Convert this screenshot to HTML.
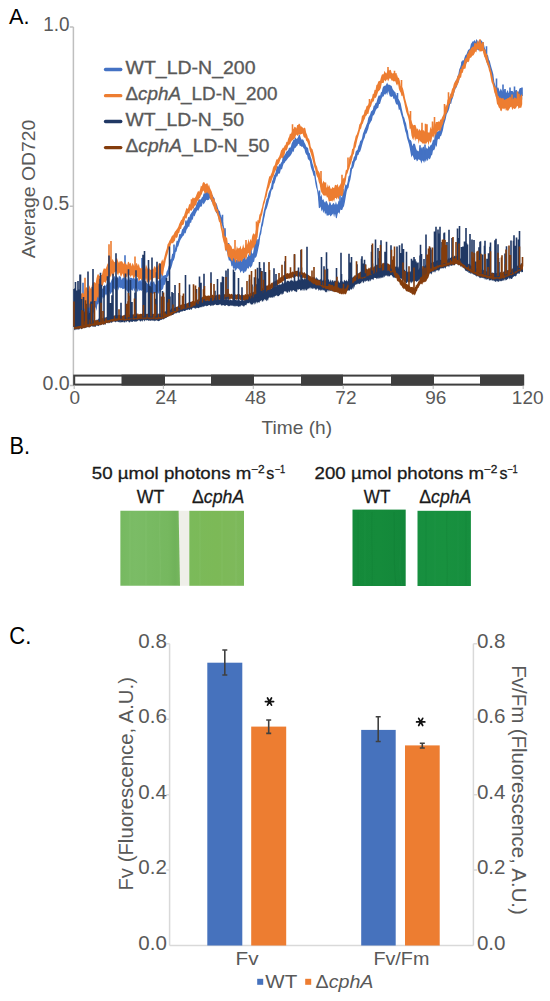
<!DOCTYPE html>
<html><head><meta charset="utf-8">
<style>
html,body{margin:0;padding:0;background:#fff;}
body{width:550px;height:1001px;position:relative;overflow:hidden;}
svg{position:absolute;left:0;top:0;}
</style></head><body>
<svg width="550" height="1001" viewBox="0 0 550 1001">

<g font-family='"Liberation Sans", sans-serif'>
<text x="69.5" y="31" font-size="19.3" text-anchor="end" fill="#595959" textLength="26.3" lengthAdjust="spacingAndGlyphs" >1.0</text>
<text x="69.3" y="210" font-size="19.3" text-anchor="end" fill="#595959" textLength="26.7" lengthAdjust="spacingAndGlyphs" >0.5</text>
<text x="69.8" y="389.9" font-size="19.3" text-anchor="end" fill="#595959" textLength="27.3" lengthAdjust="spacingAndGlyphs" >0.0</text>
<text x="74.9" y="404" font-size="19" text-anchor="middle" fill="#595959" >0</text>
<text x="166" y="403.9" font-size="19.3" text-anchor="middle" fill="#595959" textLength="21.6" lengthAdjust="spacingAndGlyphs" >24</text>
<text x="255.6" y="404" font-size="19" text-anchor="middle" fill="#595959" >48</text>
<text x="345.9" y="404" font-size="19" text-anchor="middle" fill="#595959" >72</text>
<text x="435.8" y="404" font-size="19" text-anchor="middle" fill="#595959" >96</text>
<text x="527.7" y="404" font-size="19" text-anchor="middle" fill="#595959" >120</text>
<text x="296.8" y="434.4" font-size="19" text-anchor="middle" fill="#595959" textLength="70.5" lengthAdjust="spacingAndGlyphs" >Time (h)</text>
<text transform="translate(34.8,188.9) rotate(-90)" font-size="19" text-anchor="middle" fill="#595959" textLength="138.5" lengthAdjust="spacingAndGlyphs">Average OD720</text>
</g>
<g stroke="#bfbfbf" stroke-width="1.5" fill="none">
<path d="M73.4 27 V386"/>
<path d="M69.8 27 H73.4 M69.8 206.2 H73.4 M69.8 385.5 H73.4"/>
</g>
<g stroke-width="1.6" stroke-linejoin="miter">
<path d="M74.0 305.3L74.9 305.4L75.8 305.5L76.7 306.4L77.6 302.9L78.5 307.1L79.4 302.0L80.3 302.5L81.2 305.9L82.1 301.2L83.0 303.9L83.9 303.6L84.8 304.3L85.7 300.9L86.6 302.5L87.5 300.0L88.4 299.9L89.3 300.6L90.2 302.3L91.1 299.2L92.0 302.6L92.9 296.8L93.8 298.2L94.7 295.3L95.6 295.0L96.5 293.4L97.4 291.6L98.3 290.8L99.2 287.4L100.1 292.2L101.0 289.2L101.9 287.4L102.8 289.2L103.7 286.9L104.6 284.5L105.5 286.0L106.4 284.7L107.3 282.4L108.2 281.5L109.1 280.9L110.0 283.3L110.9 281.7L111.8 279.3L112.7 279.0L113.6 277.2L114.5 275.8L115.4 278.5L116.3 275.5L117.2 276.5L118.1 278.8L119.0 275.4L119.9 276.6L120.8 276.8L121.7 280.1L122.6 277.9L123.5 277.4L124.4 277.9L125.3 277.2L126.2 278.1L127.1 280.7L128.0 278.0L128.9 280.2L129.8 277.0L130.7 277.9L131.6 277.7L132.5 278.8L133.4 276.9L134.3 278.1L135.2 279.7L136.1 278.9L137.0 277.8L137.9 278.5L138.8 281.7L139.7 280.0L140.6 280.5L141.5 282.5L142.4 278.4L143.3 280.3L144.2 278.8L145.1 282.7L146.0 282.5L146.9 283.0L147.8 284.2L148.7 282.9L149.6 285.1L150.5 281.2L151.4 281.3L152.3 283.0L153.2 281.7L154.1 281.3L155.0 284.3L155.9 284.5L156.8 282.6L157.7 279.4L158.6 281.0L159.5 279.9L160.4 279.9L161.3 278.2L162.2 278.0L163.1 275.6L164.0 275.7L164.9 275.0L165.8 275.1L166.7 271.3L167.6 270.0L168.5 266.6L169.4 264.6L170.3 259.3L171.2 259.1L172.1 254.1L173.0 253.5L173.9 250.8L174.8 249.2L175.7 245.6L176.6 240.8L177.5 241.0L178.4 238.5L179.3 233.9L180.2 234.2L181.1 233.4L182.0 229.4L182.9 228.7L183.8 226.8L184.7 225.7L185.6 222.0L186.5 221.9L187.4 220.0L188.3 216.8L189.2 217.5L190.1 214.8L191.0 213.5L191.9 211.9L192.8 211.0L193.7 208.7L194.6 207.9L195.5 207.3L196.4 204.0L197.3 202.4L198.2 200.2L199.1 199.2L200.0 199.5L200.9 199.5L201.8 197.5L202.7 196.8L203.6 193.4L204.5 193.4L205.4 191.1L206.3 191.0L207.2 190.4L208.1 188.7L209.0 189.0L209.9 193.1L210.8 194.0L211.7 194.5L212.6 195.0L213.5 197.0L214.4 198.0L215.3 202.4L216.2 202.9L217.1 205.1L218.0 208.2L218.9 210.6L219.8 211.1L220.7 214.8L221.6 216.9L222.5 218.5L223.4 223.7L224.3 228.2L225.2 230.4L226.1 238.7L227.0 242.8L227.9 246.0L228.8 247.5L229.7 247.4L230.6 250.1L231.5 253.5L232.4 253.3L233.3 257.2L234.2 257.8L235.1 259.2L236.0 259.5L236.9 260.0L237.8 256.1L238.7 257.2L239.6 257.4L240.5 259.3L241.4 262.0L242.3 257.7L243.2 258.9L244.1 257.8L245.0 258.0L245.9 260.0L246.8 257.7L247.7 256.7L248.6 254.0L249.5 255.7L250.4 254.2L251.3 252.2L252.2 253.7L253.1 253.0L254.0 249.2L254.9 245.5L255.8 244.3L256.7 247.0L257.6 240.5L258.5 238.7L259.4 233.9L260.3 229.9L261.2 224.6L262.1 220.5L263.0 215.2L263.9 210.6L264.8 207.1L265.7 202.8L266.6 198.9L267.5 197.7L268.4 193.6L269.3 191.0L270.2 189.2L271.1 186.6L272.0 181.5L272.9 179.2L273.8 175.8L274.7 174.6L275.6 172.4L276.5 167.6L277.4 165.9L278.3 166.8L279.2 164.0L280.1 164.4L281.0 162.7L281.9 161.4L282.8 156.5L283.7 155.9L284.6 154.9L285.5 153.4L286.4 151.6L287.3 150.9L288.2 150.1L289.1 147.4L290.0 148.0L290.9 146.4L291.8 143.0L292.7 141.4L293.6 139.3L294.5 139.8L295.4 136.9L296.3 139.1L297.2 138.5L298.1 137.1L299.0 134.4L299.9 134.7L300.8 137.9L301.7 139.8L302.6 139.2L303.5 140.1L304.4 142.6L305.3 144.0L306.2 146.4L307.1 147.5L308.0 147.8L308.9 152.5L309.8 153.2L310.7 156.8L311.6 159.3L312.5 163.4L313.4 166.0L314.3 170.4L315.2 171.6L316.1 179.2L317.0 183.3L317.9 189.8L318.8 192.3L319.7 195.2L320.6 196.8L321.5 194.3L322.4 200.2L323.3 199.0L324.2 201.4L325.1 202.8L326.0 200.7L326.9 201.6L327.8 203.8L328.7 205.4L329.6 201.6L330.5 202.8L331.4 205.3L332.3 204.4L333.2 202.8L334.1 203.4L335.0 205.1L335.9 201.6L336.8 204.6L337.7 204.3L338.6 200.6L339.5 201.4L340.4 200.8L341.3 196.2L342.2 198.6L343.1 193.5L344.0 191.9L344.9 186.3L345.8 183.9L346.7 185.4L347.6 182.1L348.5 176.5L349.4 175.2L350.3 168.2L351.2 167.2L352.1 161.7L353.0 160.6L353.9 156.9L354.8 156.1L355.7 151.5L356.6 150.4L357.5 149.7L358.4 146.0L359.3 144.5L360.2 140.8L361.1 140.4L362.0 138.2L362.9 133.7L363.8 131.5L364.7 128.9L365.6 127.0L366.5 124.5L367.4 122.6L368.3 117.7L369.2 116.3L370.1 114.6L371.0 111.4L371.9 110.7L372.8 109.8L373.7 105.7L374.6 105.5L375.5 102.9L376.4 102.7L377.3 99.3L378.2 96.5L379.1 94.9L380.0 95.9L380.9 92.5L381.8 91.7L382.7 87.8L383.6 86.3L384.5 85.8L385.4 85.7L386.3 84.2L387.2 82.5L388.1 84.7L389.0 84.4L389.9 84.9L390.8 85.6L391.7 85.9L392.6 89.1L393.5 90.3L394.4 91.4L395.3 91.9L396.2 95.3L397.1 95.5L398.0 98.6L398.9 99.4L399.8 101.3L400.7 103.6L401.6 108.0L402.5 112.0L403.4 116.3L404.3 117.7L405.2 121.2L406.1 123.5L407.0 128.8L407.9 130.9L408.8 137.2L409.7 139.8L410.6 140.0L411.5 141.4L412.4 146.3L413.3 143.7L414.2 143.4L415.1 144.5L416.0 148.3L416.9 150.4L417.8 150.8L418.7 151.4L419.6 147.3L420.5 148.1L421.4 148.6L422.3 149.5L423.2 146.6L424.1 147.1L425.0 150.2L425.9 147.0L426.8 148.5L427.7 148.7L428.6 145.3L429.5 147.6L430.4 145.3L431.3 144.9L432.2 142.9L433.1 139.3L434.0 140.5L434.9 134.4L435.8 131.5L436.7 132.3L437.6 131.4L438.5 131.3L439.4 130.2L440.3 127.8L441.2 126.8L442.1 123.0L443.0 118.8L443.9 118.4L444.8 112.6L445.7 109.2L446.6 106.7L447.5 103.7L448.4 100.1L449.3 98.2L450.2 94.9L451.1 93.3L452.0 93.0L452.9 89.7L453.8 87.6L454.7 83.7L455.6 80.6L456.5 80.6L457.4 76.3L458.3 74.4L459.2 69.6L460.1 67.5L461.0 64.5L461.9 61.7L462.8 60.1L463.7 60.5L464.6 57.3L465.5 55.0L466.4 54.6L467.3 52.1L468.2 49.7L469.1 49.6L470.0 48.3L470.9 44.0L471.8 42.8L472.7 41.2L473.6 41.5L474.5 39.7L475.4 42.0L476.3 39.1L477.2 40.2L478.1 42.4L479.0 40.2L479.9 40.1L480.8 40.0L481.7 40.7L482.6 42.1L483.5 41.9L484.4 46.6L485.3 49.5L486.2 50.6L487.1 54.9L488.0 55.2L488.9 59.6L489.8 61.1L490.7 64.7L491.6 68.0L492.5 71.0L493.4 74.5L494.3 82.1L495.2 84.8L496.1 87.6L497.0 88.6L497.9 87.0L498.8 88.4L499.7 91.8L500.6 88.4L501.5 89.7L502.4 92.0L503.3 89.2L504.2 90.8L505.1 89.0L506.0 93.3L506.9 91.6L507.8 90.1L508.7 93.2L509.6 91.2L510.5 90.7L511.4 91.0L512.3 91.0L513.2 91.6L514.1 93.1L515.0 90.7L515.9 90.1L516.8 90.1L517.7 92.3L518.6 91.5L519.5 88.8L520.4 88.9L521.3 91.5L522.2 92.1L522.2 99.2L521.3 103.0L520.4 101.8L519.5 102.7L518.6 102.0L517.7 102.5L516.8 102.6L515.9 101.1L515.0 103.3L514.1 99.9L513.2 102.1L512.3 102.9L511.4 101.5L510.5 101.3L509.6 102.7L508.7 101.0L507.8 99.9L506.9 102.9L506.0 103.8L505.1 103.4L504.2 101.9L503.3 99.7L502.4 99.7L501.5 99.8L500.6 102.8L499.7 99.0L498.8 98.1L497.9 96.2L497.0 98.8L496.1 97.9L495.2 92.8L494.3 89.0L493.4 82.9L492.5 81.0L491.6 75.8L490.7 74.0L489.8 71.0L488.9 67.7L488.0 66.8L487.1 63.2L486.2 61.5L485.3 57.7L484.4 55.9L483.5 50.9L482.6 50.5L481.7 50.6L480.8 48.3L479.9 50.0L479.0 50.8L478.1 50.0L477.2 49.5L476.3 50.0L475.4 49.0L474.5 51.3L473.6 49.5L472.7 52.6L471.8 53.5L470.9 55.7L470.0 55.6L469.1 56.8L468.2 60.1L467.3 62.1L466.4 63.3L465.5 64.6L464.6 64.9L463.7 67.6L462.8 67.7L461.9 71.2L461.0 72.7L460.1 75.0L459.2 80.5L458.3 82.7L457.4 84.7L456.5 87.5L455.6 88.6L454.7 91.1L453.8 94.6L452.9 97.9L452.0 100.1L451.1 103.9L450.2 103.5L449.3 108.2L448.4 110.9L447.5 112.7L446.6 114.4L445.7 118.9L444.8 122.0L443.9 125.0L443.0 129.9L442.1 133.0L441.2 135.8L440.3 136.3L439.4 139.6L438.5 138.7L437.6 139.7L436.7 147.3L435.8 145.0L434.9 148.5L434.0 150.4L433.1 150.1L432.2 154.8L431.3 155.5L430.4 158.2L429.5 159.5L428.6 158.1L427.7 161.2L426.8 158.9L425.9 162.1L425.0 159.9L424.1 163.0L423.2 160.9L422.3 160.6L421.4 163.8L420.5 160.6L419.6 160.1L418.7 158.9L417.8 160.4L416.9 161.4L416.0 158.9L415.1 159.8L414.2 160.0L413.3 157.0L412.4 155.0L411.5 157.5L410.6 153.0L409.7 148.1L408.8 144.1L407.9 141.0L407.0 138.0L406.1 133.6L405.2 130.9L404.3 126.6L403.4 123.2L402.5 119.1L401.6 116.0L400.7 113.1L399.8 109.3L398.9 110.3L398.0 105.5L397.1 104.3L396.2 104.5L395.3 102.0L394.4 98.5L393.5 98.9L392.6 96.1L391.7 97.0L390.8 96.4L389.9 96.5L389.0 93.4L388.1 91.0L387.2 95.2L386.3 92.7L385.4 94.8L384.5 94.1L383.6 96.4L382.7 96.5L381.8 98.0L380.9 100.8L380.0 104.1L379.1 103.9L378.2 108.1L377.3 108.2L376.4 109.2L375.5 111.0L374.6 113.7L373.7 115.3L372.8 115.8L371.9 120.3L371.0 121.4L370.1 123.2L369.2 124.8L368.3 128.8L367.4 130.9L366.5 133.5L365.6 133.8L364.7 137.7L363.8 139.5L362.9 142.3L362.0 145.5L361.1 148.7L360.2 151.4L359.3 152.3L358.4 155.0L357.5 155.2L356.6 159.7L355.7 160.5L354.8 162.0L353.9 165.9L353.0 168.3L352.1 169.0L351.2 174.9L350.3 179.9L349.4 182.8L348.5 187.7L347.6 188.7L346.7 191.4L345.8 196.7L344.9 202.1L344.0 206.2L343.1 207.4L342.2 210.0L341.3 210.1L340.4 209.5L339.5 214.0L338.6 212.3L337.7 213.8L336.8 218.2L335.9 218.1L335.0 213.6L334.1 217.2L333.2 213.5L332.3 214.4L331.4 215.4L330.5 216.6L329.6 214.6L328.7 215.5L327.8 215.3L326.9 216.0L326.0 212.7L325.1 214.5L324.2 210.6L323.3 213.2L322.4 209.3L321.5 211.6L320.6 206.4L319.7 208.2L318.8 207.7L317.9 196.1L317.0 190.1L316.1 187.3L315.2 182.5L314.3 176.2L313.4 175.6L312.5 171.8L311.6 169.6L310.7 166.4L309.8 161.2L308.9 159.7L308.0 159.4L307.1 155.3L306.2 154.5L305.3 152.7L304.4 149.1L303.5 148.3L302.6 146.6L301.7 146.9L300.8 145.7L299.9 146.3L299.0 143.8L298.1 144.0L297.2 146.1L296.3 146.5L295.4 148.0L294.5 148.3L293.6 151.9L292.7 151.3L291.8 153.6L290.9 154.9L290.0 156.3L289.1 157.1L288.2 158.0L287.3 159.3L286.4 160.5L285.5 161.3L284.6 163.0L283.7 163.4L282.8 166.3L281.9 169.7L281.0 168.8L280.1 172.5L279.2 174.0L278.3 173.6L277.4 176.5L276.5 176.4L275.6 179.8L274.7 183.0L273.8 184.0L272.9 189.5L272.0 189.3L271.1 192.0L270.2 196.7L269.3 199.0L268.4 202.7L267.5 205.9L266.6 208.8L265.7 210.6L264.8 215.7L263.9 219.6L263.0 225.0L262.1 227.4L261.2 233.7L260.3 236.0L259.4 243.7L258.5 247.7L257.6 252.2L256.7 256.0L255.8 257.7L254.9 257.4L254.0 262.2L253.1 261.7L252.2 265.4L251.3 266.8L250.4 268.0L249.5 266.0L248.6 269.1L247.7 267.8L246.8 269.4L245.9 272.0L245.0 271.1L244.1 272.8L243.2 273.3L242.3 270.5L241.4 271.2L240.5 273.0L239.6 270.1L238.7 269.1L237.8 268.3L236.9 268.6L236.0 270.3L235.1 270.7L234.2 267.8L233.3 269.6L232.4 265.4L231.5 266.6L230.6 261.4L229.7 260.5L228.8 260.4L227.9 256.3L227.0 252.2L226.1 249.9L225.2 241.9L224.3 236.4L223.4 231.8L222.5 227.0L221.6 223.7L220.7 222.4L219.8 220.9L218.9 219.7L218.0 216.1L217.1 212.8L216.2 213.4L215.3 209.4L214.4 207.5L213.5 204.8L212.6 203.3L211.7 202.0L210.8 199.7L209.9 198.1L209.0 199.7L208.1 200.1L207.2 200.3L206.3 199.8L205.4 201.4L204.5 202.9L203.6 204.5L202.7 202.4L201.8 206.6L200.9 206.6L200.0 207.0L199.1 209.0L198.2 211.1L197.3 209.9L196.4 211.9L195.5 213.7L194.6 216.6L193.7 215.5L192.8 219.7L191.9 219.6L191.0 223.2L190.1 222.4L189.2 226.9L188.3 226.6L187.4 228.6L186.5 229.8L185.6 233.4L184.7 232.7L183.8 235.4L182.9 236.1L182.0 237.6L181.1 238.8L180.2 240.4L179.3 243.0L178.4 246.3L177.5 247.0L176.6 251.5L175.7 251.9L174.8 257.2L173.9 260.1L173.0 261.3L172.1 264.9L171.2 267.9L170.3 269.4L169.4 272.3L168.5 275.8L167.6 276.6L166.7 279.5L165.8 281.5L164.9 285.1L164.0 284.6L163.1 288.4L162.2 289.7L161.3 290.3L160.4 292.8L159.5 290.6L158.6 294.3L157.7 291.3L156.8 294.2L155.9 292.9L155.0 293.3L154.1 293.4L153.2 293.5L152.3 293.8L151.4 294.4L150.5 293.8L149.6 291.6L148.7 291.4L147.8 292.4L146.9 292.1L146.0 293.7L145.1 294.8L144.2 293.7L143.3 290.5L142.4 289.4L141.5 291.0L140.6 290.0L139.7 291.3L138.8 289.1L137.9 291.9L137.0 290.4L136.1 288.1L135.2 289.1L134.3 292.3L133.4 287.9L132.5 291.0L131.6 289.9L130.7 289.3L129.8 292.1L128.9 289.5L128.0 292.0L127.1 291.0L126.2 290.1L125.3 287.3L124.4 289.0L123.5 288.8L122.6 289.3L121.7 287.7L120.8 288.5L119.9 287.2L119.0 287.9L118.1 290.4L117.2 286.4L116.3 290.0L115.4 290.4L114.5 289.0L113.6 287.8L112.7 292.7L111.8 292.1L110.9 293.7L110.0 293.7L109.1 291.1L108.2 292.3L107.3 296.7L106.4 294.3L105.5 294.6L104.6 297.2L103.7 298.2L102.8 296.7L101.9 299.7L101.0 301.4L100.1 299.1L99.2 301.0L98.3 304.3L97.4 304.3L96.5 311.1L95.6 306.8L94.7 309.8L93.8 312.1L92.9 314.6L92.0 311.9L91.1 312.8L90.2 312.5L89.3 314.2L88.4 315.3L87.5 313.8L86.6 314.2L85.7 317.1L84.8 316.7L83.9 314.2L83.0 318.5L82.1 317.0L81.2 316.4L80.3 319.8L79.4 317.2L78.5 320.3L77.6 320.7L76.7 317.6L75.8 323.2L74.9 318.2L74.0 321.6Z" fill="#4472c4"/><path d="M83.0 310.6V282.7M124.5 284.0V271.5M125.0 284.0V255.3M142.0 285.9V257.9M144.5 286.7V272.5M162.0 282.9V268.2M174.0 254.1V244.5M186.0 226.9V220.6M222.5 223.7V214.7M225.0 237.2V228.3M228.5 251.7V243.1M230.5 256.6V247.6M231.5 259.1V250.5M239.0 264.8V253.3M244.5 264.5V256.9M251.0 261.0V249.3M254.5 254.6V244.5M255.5 252.8V240.7M257.0 250.0V239.3M319.5 200.6V190.5M340.0 206.3V193.3M343.0 201.9V189.1M397.5 101.5V93.1M420.0 155.0V145.3M422.0 155.0V147.5M425.0 155.0V144.6M462.0 67.0V61.5M486.5 56.5V46.2M496.5 91.9V78.5M503.0 96.2V84.5M505.0 96.4V89.1M510.0 97.0V87.4M514.5 96.7V86.4M520.5 96.2V88.0M522.0 96.1V87.4" stroke="#4472c4" fill="none"/>
<path d="M74.0 297.9L74.9 299.6L75.8 296.2L76.7 292.6L77.6 298.3L78.5 293.5L79.4 294.0L80.3 295.5L81.2 293.4L82.1 293.3L83.0 292.6L83.9 294.6L84.8 289.4L85.7 287.4L86.6 287.2L87.5 288.2L88.4 291.4L89.3 284.9L90.2 287.8L91.1 289.0L92.0 284.7L92.9 281.9L93.8 282.8L94.7 282.0L95.6 283.5L96.5 278.2L97.4 274.8L98.3 274.0L99.2 275.9L100.1 275.7L101.0 274.9L101.9 275.0L102.8 271.2L103.7 268.4L104.6 268.6L105.5 269.1L106.4 267.0L107.3 264.3L108.2 262.8L109.1 265.1L110.0 264.4L110.9 261.1L111.8 260.8L112.7 258.8L113.6 261.0L114.5 262.3L115.4 261.5L116.3 258.0L117.2 258.4L118.1 261.2L119.0 263.1L119.9 260.8L120.8 261.8L121.7 261.1L122.6 262.0L123.5 264.3L124.4 261.0L125.3 263.9L126.2 263.4L127.1 265.5L128.0 261.8L128.9 262.1L129.8 263.9L130.7 262.6L131.6 266.6L132.5 262.8L133.4 264.5L134.3 266.4L135.2 265.2L136.1 263.3L137.0 263.2L137.9 266.1L138.8 263.5L139.7 267.5L140.6 268.5L141.5 267.7L142.4 268.0L143.3 263.8L144.2 268.6L145.1 269.2L146.0 264.5L146.9 266.7L147.8 268.9L148.7 266.0L149.6 269.0L150.5 269.7L151.4 270.0L152.3 268.8L153.2 269.4L154.1 266.5L155.0 266.3L155.9 268.0L156.8 264.7L157.7 267.5L158.6 263.4L159.5 262.9L160.4 264.2L161.3 261.7L162.2 259.3L163.1 261.6L164.0 258.2L164.9 254.8L165.8 251.3L166.7 248.8L167.6 244.2L168.5 242.9L169.4 240.8L170.3 239.6L171.2 237.6L172.1 235.4L173.0 235.6L173.9 233.7L174.8 231.7L175.7 230.8L176.6 229.4L177.5 228.2L178.4 226.5L179.3 223.8L180.2 221.9L181.1 220.1L182.0 219.6L182.9 216.6L183.8 216.2L184.7 213.3L185.6 210.5L186.5 207.7L187.4 209.0L188.3 207.6L189.2 203.8L190.1 204.7L191.0 202.0L191.9 200.5L192.8 198.9L193.7 198.5L194.6 198.0L195.5 197.0L196.4 194.8L197.3 192.6L198.2 190.7L199.1 191.9L200.0 189.7L200.9 185.6L201.8 186.5L202.7 183.1L203.6 182.0L204.5 182.6L205.4 184.3L206.3 183.8L207.2 184.4L208.1 186.4L209.0 184.3L209.9 187.8L210.8 189.7L211.7 191.4L212.6 194.8L213.5 198.8L214.4 198.6L215.3 202.0L216.2 203.2L217.1 209.1L218.0 209.3L218.9 214.3L219.8 216.3L220.7 218.6L221.6 223.1L222.5 227.8L223.4 234.6L224.3 235.7L225.2 235.9L226.1 237.5L227.0 237.6L227.9 243.7L228.8 243.9L229.7 244.3L230.6 245.5L231.5 246.5L232.4 249.2L233.3 248.5L234.2 249.2L235.1 250.2L236.0 250.5L236.9 246.1L237.8 248.5L238.7 248.3L239.6 248.0L240.5 245.5L241.4 249.5L242.3 248.0L243.2 244.0L244.1 247.9L245.0 247.4L245.9 242.4L246.8 245.4L247.7 242.7L248.6 238.8L249.5 243.0L250.4 238.8L251.3 240.9L252.2 236.1L253.1 233.4L254.0 233.6L254.9 234.7L255.8 230.2L256.7 225.9L257.6 219.7L258.5 220.5L259.4 214.7L260.3 213.4L261.2 209.9L262.1 207.0L263.0 202.5L263.9 199.7L264.8 195.7L265.7 191.6L266.6 187.7L267.5 183.9L268.4 179.8L269.3 176.3L270.2 176.2L271.1 173.9L272.0 171.9L272.9 167.9L273.8 165.9L274.7 165.2L275.6 161.9L276.5 159.2L277.4 159.4L278.3 158.0L279.2 156.6L280.1 153.9L281.0 150.5L281.9 149.4L282.8 147.7L283.7 147.7L284.6 145.4L285.5 145.1L286.4 141.8L287.3 142.0L288.2 138.6L289.1 136.7L290.0 133.5L290.9 133.9L291.8 132.1L292.7 129.4L293.6 128.7L294.5 126.7L295.4 127.0L296.3 128.6L297.2 124.9L298.1 125.0L299.0 123.6L299.9 124.3L300.8 126.4L301.7 126.6L302.6 127.6L303.5 128.5L304.4 127.5L305.3 128.3L306.2 132.8L307.1 134.8L308.0 138.1L308.9 138.7L309.8 141.1L310.7 146.6L311.6 148.4L312.5 149.2L313.4 152.5L314.3 156.6L315.2 161.5L316.1 164.9L317.0 166.6L317.9 170.2L318.8 171.6L319.7 172.9L320.6 178.1L321.5 179.1L322.4 184.1L323.3 180.4L324.2 182.2L325.1 182.4L326.0 186.4L326.9 188.0L327.8 184.0L328.7 187.3L329.6 185.0L330.5 188.5L331.4 189.1L332.3 187.1L333.2 187.7L334.1 187.9L335.0 184.8L335.9 184.9L336.8 185.6L337.7 183.7L338.6 187.5L339.5 185.6L340.4 184.2L341.3 181.9L342.2 179.8L343.1 177.8L344.0 178.7L344.9 175.6L345.8 170.2L346.7 169.7L347.6 166.2L348.5 163.2L349.4 157.3L350.3 156.0L351.2 154.2L352.1 148.9L353.0 148.6L353.9 143.1L354.8 139.9L355.7 136.1L356.6 134.8L357.5 132.3L358.4 129.2L359.3 124.6L360.2 123.5L361.1 120.9L362.0 115.6L362.9 115.4L363.8 113.9L364.7 110.2L365.6 109.5L366.5 106.3L367.4 105.8L368.3 104.4L369.2 102.1L370.1 102.1L371.0 99.2L371.9 98.0L372.8 94.0L373.7 93.8L374.6 89.8L375.5 90.1L376.4 85.0L377.3 84.4L378.2 81.7L379.1 80.7L380.0 81.1L380.9 77.4L381.8 74.7L382.7 74.2L383.6 74.2L384.5 70.7L385.4 72.4L386.3 73.4L387.2 71.7L388.1 69.3L389.0 70.7L389.9 69.7L390.8 70.0L391.7 72.9L392.6 73.4L393.5 72.9L394.4 73.8L395.3 73.6L396.2 75.7L397.1 74.7L398.0 77.7L398.9 77.8L399.8 80.7L400.7 85.8L401.6 88.0L402.5 87.2L403.4 89.9L404.3 94.0L405.2 98.8L406.1 102.1L407.0 105.4L407.9 108.2L408.8 113.5L409.7 114.7L410.6 118.9L411.5 120.8L412.4 123.7L413.3 125.6L414.2 125.1L415.1 124.7L416.0 126.8L416.9 129.5L417.8 128.2L418.7 131.0L419.6 128.7L420.5 131.0L421.4 129.1L422.3 130.2L423.2 130.2L424.1 130.6L425.0 131.7L425.9 128.7L426.8 132.3L427.7 132.2L428.6 132.4L429.5 132.6L430.4 126.5L431.3 129.6L432.2 125.0L433.1 127.9L434.0 121.8L434.9 125.1L435.8 121.9L436.7 122.0L437.6 121.9L438.5 121.2L439.4 121.9L440.3 119.6L441.2 119.6L442.1 117.3L443.0 115.6L443.9 113.5L444.8 108.5L445.7 104.9L446.6 105.5L447.5 99.8L448.4 98.7L449.3 97.7L450.2 94.4L451.1 92.7L452.0 88.9L452.9 87.8L453.8 84.0L454.7 81.9L455.6 81.0L456.5 79.1L457.4 76.4L458.3 74.9L459.2 73.8L460.1 68.7L461.0 69.6L461.9 66.1L462.8 65.4L463.7 63.6L464.6 59.6L465.5 58.3L466.4 57.7L467.3 53.7L468.2 53.2L469.1 50.0L470.0 50.5L470.9 48.3L471.8 47.6L472.7 46.5L473.6 46.8L474.5 42.8L475.4 43.0L476.3 43.9L477.2 39.9L478.1 43.0L479.0 40.1L479.9 42.2L480.8 40.7L481.7 43.8L482.6 42.8L483.5 45.3L484.4 49.7L485.3 49.0L486.2 53.7L487.1 53.8L488.0 59.2L488.9 62.6L489.8 65.3L490.7 69.2L491.6 72.3L492.5 76.7L493.4 81.1L494.3 84.4L495.2 87.6L496.1 86.7L497.0 91.1L497.9 95.6L498.8 96.6L499.7 97.9L500.6 97.6L501.5 98.5L502.4 98.3L503.3 98.1L504.2 100.1L505.1 99.4L506.0 99.2L506.9 98.8L507.8 98.1L508.7 98.1L509.6 97.0L510.5 96.4L511.4 99.8L512.3 99.3L513.2 99.3L514.1 97.5L515.0 97.5L515.9 98.3L516.8 98.4L517.7 98.3L518.6 98.0L519.5 98.7L520.4 96.1L521.3 94.5L522.2 94.7L522.2 104.3L521.3 107.8L520.4 107.7L519.5 107.7L518.6 109.1L517.7 105.8L516.8 106.4L515.9 108.3L515.0 108.7L514.1 108.9L513.2 108.0L512.3 110.2L511.4 106.8L510.5 107.0L509.6 108.4L508.7 110.1L507.8 111.2L506.9 109.4L506.0 111.1L505.1 107.8L504.2 109.5L503.3 108.5L502.4 108.5L501.5 111.2L500.6 111.0L499.7 108.3L498.8 107.5L497.9 104.9L497.0 104.0L496.1 97.9L495.2 94.6L494.3 92.4L493.4 87.8L492.5 84.3L491.6 82.3L490.7 77.7L489.8 72.7L488.9 70.2L488.0 65.5L487.1 64.3L486.2 61.8L485.3 58.5L484.4 57.0L483.5 53.9L482.6 50.4L481.7 51.6L480.8 51.1L479.9 52.2L479.0 49.5L478.1 49.8L477.2 48.9L476.3 52.6L475.4 51.4L474.5 53.4L473.6 55.2L472.7 55.5L471.8 56.4L470.9 58.0L470.0 57.5L469.1 61.3L468.2 62.2L467.3 61.6L466.4 63.6L465.5 68.4L464.6 68.7L463.7 68.9L462.8 72.7L461.9 73.1L461.0 78.0L460.1 77.6L459.2 80.1L458.3 83.3L457.4 85.1L456.5 87.1L455.6 87.5L454.7 91.3L453.8 94.0L452.9 97.3L452.0 98.1L451.1 98.8L450.2 104.1L449.3 103.6L448.4 106.4L447.5 110.3L446.6 113.6L445.7 114.0L444.8 119.0L443.9 119.7L443.0 124.0L442.1 125.7L441.2 128.6L440.3 131.2L439.4 130.6L438.5 130.5L437.6 131.4L436.7 132.5L435.8 135.9L434.9 133.4L434.0 138.2L433.1 136.1L432.2 137.3L431.3 141.6L430.4 143.1L429.5 140.5L428.6 145.5L427.7 141.6L426.8 142.8L425.9 144.3L425.0 142.9L424.1 144.6L423.2 143.0L422.3 143.8L421.4 142.1L420.5 141.8L419.6 140.1L418.7 143.9L417.8 138.8L416.9 139.4L416.0 138.5L415.1 141.2L414.2 136.5L413.3 140.2L412.4 138.5L411.5 135.4L410.6 128.4L409.7 128.9L408.8 120.6L407.9 116.8L407.0 114.2L406.1 111.4L405.2 107.6L404.3 102.9L403.4 99.2L402.5 95.6L401.6 96.3L400.7 92.8L399.8 91.3L398.9 89.0L398.0 83.5L397.1 85.7L396.2 84.0L395.3 81.2L394.4 81.2L393.5 81.6L392.6 80.6L391.7 80.8L390.8 79.1L389.9 77.9L389.0 79.5L388.1 81.4L387.2 79.0L386.3 80.2L385.4 81.6L384.5 79.7L383.6 83.0L382.7 83.0L381.8 83.1L380.9 87.7L380.0 89.8L379.1 90.8L378.2 91.5L377.3 94.3L376.4 96.7L375.5 97.9L374.6 97.8L373.7 101.6L372.8 101.6L371.9 103.2L371.0 106.5L370.1 107.5L369.2 110.2L368.3 113.9L367.4 113.8L366.5 115.5L365.6 116.3L364.7 119.0L363.8 120.7L362.9 123.6L362.0 124.7L361.1 128.5L360.2 129.5L359.3 133.0L358.4 136.0L357.5 139.0L356.6 143.0L355.7 147.3L354.8 148.3L353.9 153.8L353.0 155.3L352.1 159.2L351.2 162.8L350.3 165.1L349.4 168.2L348.5 170.3L347.6 173.3L346.7 174.8L345.8 180.8L344.9 184.5L344.0 186.8L343.1 194.1L342.2 196.3L341.3 196.1L340.4 195.3L339.5 195.9L338.6 199.8L337.7 197.0L336.8 199.4L335.9 198.1L335.0 197.9L334.1 201.8L333.2 199.4L332.3 201.7L331.4 200.7L330.5 200.9L329.6 201.4L328.7 201.5L327.8 197.3L326.9 197.5L326.0 195.0L325.1 196.2L324.2 195.2L323.3 195.5L322.4 193.8L321.5 192.4L320.6 190.1L319.7 184.3L318.8 182.3L317.9 178.0L317.0 176.6L316.1 174.0L315.2 169.5L314.3 167.1L313.4 163.2L312.5 159.4L311.6 156.2L310.7 153.2L309.8 150.8L308.9 146.7L308.0 143.7L307.1 141.4L306.2 140.8L305.3 137.7L304.4 137.7L303.5 136.6L302.6 133.6L301.7 133.9L300.8 134.3L299.9 135.1L299.0 134.0L298.1 135.8L297.2 135.7L296.3 134.5L295.4 137.0L294.5 138.9L293.6 138.9L292.7 140.3L291.8 140.8L290.9 142.3L290.0 144.5L289.1 144.5L288.2 145.7L287.3 149.0L286.4 150.7L285.5 150.3L284.6 154.6L283.7 156.0L282.8 158.2L281.9 157.5L281.0 158.5L280.1 160.2L279.2 163.3L278.3 164.2L277.4 165.2L276.5 169.1L275.6 170.5L274.7 172.4L273.8 175.4L272.9 177.0L272.0 179.3L271.1 182.6L270.2 183.6L269.3 187.0L268.4 188.9L267.5 191.8L266.6 196.8L265.7 198.5L264.8 202.4L263.9 204.9L263.0 209.9L262.1 214.8L261.2 217.0L260.3 222.4L259.4 223.2L258.5 227.9L257.6 237.0L256.7 239.4L255.8 243.9L254.9 245.1L254.0 248.4L253.1 247.1L252.2 250.1L251.3 250.6L250.4 255.5L249.5 256.2L248.6 252.9L247.7 253.4L246.8 257.2L245.9 260.1L245.0 257.1L244.1 258.5L243.2 258.7L242.3 260.8L241.4 262.0L240.5 259.7L239.6 261.9L238.7 260.8L237.8 263.0L236.9 258.7L236.0 262.3L235.1 262.6L234.2 258.7L233.3 258.0L232.4 261.5L231.5 260.4L230.6 258.7L229.7 257.8L228.8 256.4L227.9 257.4L227.0 250.8L226.1 249.4L225.2 251.6L224.3 244.0L223.4 241.5L222.5 237.2L221.6 231.7L220.7 227.9L219.8 222.6L218.9 221.5L218.0 217.2L217.1 214.5L216.2 211.5L215.3 211.7L214.4 209.2L213.5 206.4L212.6 204.8L211.7 201.1L210.8 199.8L209.9 198.0L209.0 192.7L208.1 194.2L207.2 191.9L206.3 192.9L205.4 193.5L204.5 193.0L203.6 190.5L202.7 191.6L201.8 194.2L200.9 195.5L200.0 198.1L199.1 198.5L198.2 201.3L197.3 200.6L196.4 204.4L195.5 205.4L194.6 206.1L193.7 208.8L192.8 208.3L191.9 210.6L191.0 210.7L190.1 210.3L189.2 214.0L188.3 213.1L187.4 215.1L186.5 218.7L185.6 217.7L184.7 220.2L183.8 224.0L182.9 225.3L182.0 225.1L181.1 229.0L180.2 228.9L179.3 232.7L178.4 233.2L177.5 237.1L176.6 237.9L175.7 237.2L174.8 240.9L173.9 241.7L173.0 243.4L172.1 243.0L171.2 243.4L170.3 246.5L169.4 248.1L168.5 250.2L167.6 253.9L166.7 256.7L165.8 259.9L164.9 265.0L164.0 268.4L163.1 274.9L162.2 276.0L161.3 273.5L160.4 277.2L159.5 279.9L158.6 279.0L157.7 279.0L156.8 281.1L155.9 278.6L155.0 277.2L154.1 278.3L153.2 278.0L152.3 282.2L151.4 279.2L150.5 279.7L149.6 282.8L148.7 277.9L147.8 282.1L146.9 282.8L146.0 277.9L145.1 281.3L144.2 281.8L143.3 278.3L142.4 280.2L141.5 280.1L140.6 278.6L139.7 279.7L138.8 281.6L137.9 277.0L137.0 277.4L136.1 275.8L135.2 276.0L134.3 277.8L133.4 278.6L132.5 275.3L131.6 275.2L130.7 277.5L129.8 275.1L128.9 275.7L128.0 274.1L127.1 277.9L126.2 276.4L125.3 275.2L124.4 278.4L123.5 276.8L122.6 273.3L121.7 275.6L120.8 277.3L119.9 273.5L119.0 272.4L118.1 275.5L117.2 273.8L116.3 270.9L115.4 271.7L114.5 272.3L113.6 276.4L112.7 275.4L111.8 273.2L110.9 277.5L110.0 275.6L109.1 278.3L108.2 280.6L107.3 280.2L106.4 280.4L105.5 283.2L104.6 281.7L103.7 282.3L102.8 285.9L101.9 285.4L101.0 286.4L100.1 289.4L99.2 294.3L98.3 298.5L97.4 296.4L96.5 301.5L95.6 301.0L94.7 301.1L93.8 306.6L92.9 305.2L92.0 300.5L91.1 305.1L90.2 302.1L89.3 307.7L88.4 308.1L87.5 306.4L86.6 308.2L85.7 308.5L84.8 308.2L83.9 309.5L83.0 307.5L82.1 313.7L81.2 307.9L80.3 313.8L79.4 310.7L78.5 309.0L77.6 313.5L76.7 316.2L75.8 317.9L74.9 315.8L74.0 312.8Z" fill="#ed7d31"/><path d="M85.0 299.7V277.7M109.0 270.8V244.2M109.5 270.4V256.4M111.0 269.3V240.9M135.0 271.3V256.5M191.5 206.0V199.2M193.0 204.0V197.8M207.0 188.9V183.5M223.5 237.5V228.6M235.0 254.6V239.9M246.0 251.4V239.9M256.5 232.6V221.5M292.5 135.0V124.3M321.0 183.9V170.9M325.5 190.9V182.4M342.0 188.6V174.8M348.0 167.7V157.6M369.5 105.9V99.1M388.0 75.8V67.0M394.5 78.0V70.8M396.0 79.3V73.2M401.5 90.4V79.9M410.5 123.4V111.1M414.5 133.0V125.0M422.0 137.0V122.7M425.5 137.0V123.7M427.0 137.0V124.3M432.5 132.5V121.4M434.5 130.0V117.1M444.5 114.5V104.1M448.5 102.7V92.2M480.0 46.8V39.3M483.0 48.8V41.9M512.0 103.4V94.6M517.5 102.2V91.4M519.0 101.9V93.8" stroke="#ed7d31" fill="none"/>
<path d="M74.0 314.9L74.5 318.4L75.0 315.0L75.5 317.7L76.0 314.4L76.5 316.1L77.0 318.3L77.5 316.7L78.0 315.0L78.5 314.4L79.0 318.1L79.5 314.7L80.0 312.1L80.5 312.7L81.0 313.9L81.5 312.4L82.0 313.6L82.5 314.4L83.0 316.4L83.5 312.6L84.0 313.0L84.5 311.0L85.0 311.9L85.5 312.1L86.0 316.2L86.5 314.7L87.0 310.5L87.5 311.7L88.0 312.8L88.5 314.9L89.0 310.5L89.5 313.0L90.0 313.0L90.5 315.2L91.0 313.0L91.5 309.8L92.0 319.9L92.5 319.9L93.0 321.1L93.5 320.5L94.0 319.7L94.5 320.0L95.0 319.9L95.5 320.4L96.0 320.3L96.5 320.4L97.0 318.8L97.5 320.1L98.0 320.1L98.5 318.6L99.0 318.8L99.5 319.9L100.0 319.3L100.5 318.3L101.0 319.2L101.5 317.9L102.0 318.5L102.5 318.0L103.0 318.1L103.5 317.9L104.0 317.5L104.5 317.3L105.0 318.7L105.5 317.2L106.0 317.0L106.5 316.8L107.0 317.7L107.5 317.2L108.0 317.6L108.5 317.5L109.0 316.4L109.5 315.9L110.0 316.0L110.5 315.5L111.0 317.0L111.5 316.9L112.0 315.7L112.5 316.5L113.0 315.2L113.5 315.9L114.0 316.3L114.5 316.2L115.0 315.0L115.5 315.3L116.0 316.1L116.5 315.2L117.0 315.8L117.5 315.8L118.0 314.7L118.5 315.0L119.0 315.9L119.5 316.5L120.0 315.7L120.5 315.2L121.0 315.3L121.5 316.1L122.0 315.9L122.5 316.2L123.0 315.9L123.5 315.5L124.0 316.2L124.5 316.1L125.0 315.1L125.5 315.1L126.0 315.3L126.5 315.5L127.0 315.3L127.5 315.5L128.0 315.0L128.5 316.1L129.0 315.4L129.5 316.1L130.0 315.6L130.5 315.2L131.0 315.3L131.5 314.7L132.0 315.5L132.5 315.9L133.0 315.4L133.5 315.9L134.0 315.5L134.5 314.2L135.0 315.7L135.5 314.1L136.0 315.7L136.5 314.4L137.0 314.7L137.5 315.4L138.0 315.2L138.5 314.7L139.0 314.8L139.5 314.8L140.0 314.2L140.5 314.3L141.0 313.9L141.5 314.1L142.0 314.5L142.5 314.1L143.0 314.9L143.5 315.3L144.0 314.3L144.5 315.0L145.0 314.8L145.5 314.0L146.0 314.4L146.5 314.2L147.0 313.7L147.5 314.2L148.0 313.4L148.5 314.7L149.0 314.7L149.5 313.9L150.0 313.7L150.5 314.0L151.0 314.2L151.5 313.7L152.0 313.6L152.5 314.3L153.0 314.2L153.5 313.5L154.0 315.0L154.5 314.5L155.0 314.2L155.5 313.5L156.0 314.8L156.5 314.1L157.0 315.2L157.5 313.5L158.0 315.0L158.5 314.8L159.0 314.0L159.5 313.5L160.0 313.8L160.5 314.5L161.0 314.1L161.5 313.4L162.0 314.1L162.5 314.2L163.0 313.1L163.5 313.0L164.0 312.0L164.5 311.6L165.0 311.4L165.5 311.5L166.0 310.9L166.5 310.5L167.0 310.5L167.5 309.7L168.0 310.7L168.5 310.4L169.0 309.1L169.5 309.9L170.0 310.3L170.5 309.6L171.0 309.5L171.5 308.4L172.0 308.1L172.5 308.9L173.0 308.4L173.5 308.5L174.0 308.7L174.5 308.2L175.0 308.3L175.5 307.3L176.0 308.1L176.5 306.8L177.0 306.9L177.5 307.9L178.0 307.7L178.5 305.9L179.0 306.2L179.5 306.4L180.0 306.1L180.5 305.6L181.0 306.4L181.5 306.3L182.0 305.6L182.5 305.8L183.0 305.2L183.5 305.6L184.0 304.8L184.5 304.6L185.0 304.3L185.5 304.8L186.0 304.3L186.5 304.5L187.0 303.9L187.5 303.6L188.0 303.4L188.5 304.6L189.0 304.2L189.5 304.0L190.0 303.0L190.5 302.8L191.0 303.7L191.5 302.4L192.0 302.2L192.5 303.2L193.0 302.7L193.5 302.5L194.0 303.0L194.5 302.4L195.0 302.5L195.5 302.3L196.0 302.3L196.5 302.2L197.0 301.7L197.5 302.3L198.0 301.9L198.5 302.1L199.0 301.0L199.5 301.3L200.0 301.8L200.5 301.0L201.0 301.0L201.5 301.1L202.0 301.0L202.5 301.4L203.0 300.3L203.5 300.5L204.0 300.8L204.5 301.1L205.0 300.9L205.5 299.9L206.0 299.6L206.5 300.9L207.0 299.4L207.5 300.5L208.0 299.8L208.5 300.6L209.0 300.1L209.5 299.1L210.0 299.2L210.5 299.5L211.0 300.3L211.5 299.2L212.0 299.5L212.5 298.8L213.0 300.1L213.5 299.8L214.0 299.7L214.5 298.8L215.0 299.9L215.5 299.4L216.0 298.5L216.5 299.3L217.0 299.3L217.5 298.5L218.0 299.6L218.5 298.1L219.0 299.1L219.5 299.2L220.0 299.4L220.5 298.5L221.0 299.5L221.5 298.8L222.0 300.1L222.5 299.4L223.0 299.7L223.5 298.6L224.0 298.9L224.5 298.7L225.0 300.2L225.5 299.3L226.0 299.7L226.5 298.9L227.0 300.1L227.5 300.0L228.0 300.0L228.5 299.3L229.0 300.0L229.5 300.4L230.0 299.4L230.5 299.6L231.0 300.0L231.5 300.3L232.0 300.2L232.5 300.1L233.0 300.6L233.5 300.6L234.0 300.3L234.5 299.7L235.0 300.1L235.5 300.0L236.0 300.1L236.5 300.4L237.0 299.5L237.5 300.7L238.0 299.9L238.5 300.8L239.0 299.3L239.5 300.6L240.0 300.4L240.5 300.8L241.0 300.7L241.5 300.8L242.0 300.5L242.5 299.6L243.0 299.8L243.5 300.5L244.0 300.4L244.5 300.0L245.0 298.5L245.5 299.3L246.0 298.5L246.5 299.0L247.0 297.4L247.5 298.4L248.0 296.9L248.5 297.6L249.0 296.7L249.5 295.9L250.0 295.1L250.5 295.3L251.0 294.5L251.5 294.9L252.0 293.4L252.5 292.4L253.0 294.8L253.5 292.2L254.0 293.0L254.5 292.5L255.0 292.5L255.5 293.6L256.0 291.1L256.5 290.8L257.0 290.9L257.5 291.0L258.0 290.9L258.5 291.7L259.0 290.2L259.5 292.7L260.0 290.7L260.5 291.0L261.0 292.0L261.5 292.1L262.0 291.1L262.5 291.7L263.0 291.4L263.5 290.7L264.0 289.6L264.5 289.6L265.0 290.4L265.5 290.7L266.0 288.9L266.5 290.6L267.0 288.4L267.5 288.7L268.0 288.8L268.5 290.1L269.0 289.2L269.5 288.2L270.0 288.0L270.5 287.0L271.0 288.6L271.5 288.9L272.0 286.1L272.5 285.7L273.0 287.1L273.5 285.9L274.0 287.3L274.5 285.3L275.0 287.0L275.5 285.1L276.0 286.9L276.5 286.3L277.0 284.6L277.5 284.9L278.0 284.8L278.5 285.2L279.0 284.7L279.5 284.0L280.0 285.0L280.5 284.6L281.0 284.1L281.5 284.4L282.0 282.8L282.5 281.7L283.0 282.0L283.5 283.6L284.0 283.6L284.5 281.4L285.0 283.4L285.5 281.3L286.0 280.5L286.5 282.7L287.0 280.7L287.5 280.5L288.0 281.2L288.5 280.9L289.0 280.6L289.5 282.0L290.0 281.3L290.5 280.6L291.0 279.5L291.5 279.5L292.0 281.2L292.5 280.7L293.0 279.8L293.5 282.0L294.0 280.7L294.5 282.0L295.0 279.8L295.5 281.5L296.0 280.3L296.5 281.5L297.0 280.4L297.5 280.8L298.0 279.8L298.5 279.9L299.0 279.6L299.5 279.7L300.0 279.1L300.5 279.9L301.0 280.8L301.5 280.6L302.0 278.3L302.5 278.8L303.0 278.2L303.5 280.2L304.0 278.5L304.5 277.7L305.0 279.4L305.5 278.8L306.0 278.2L306.5 277.9L307.0 277.8L307.5 279.9L308.0 277.2L308.5 279.2L309.0 279.5L309.5 277.0L310.0 278.9L310.5 279.8L311.0 279.6L311.5 279.3L312.0 277.7L312.5 276.7L313.0 278.2L313.5 276.7L314.0 277.1L314.5 276.6L315.0 278.4L315.5 278.8L316.0 277.2L316.5 277.2L317.0 279.0L317.5 278.1L318.0 279.5L318.5 279.6L319.0 279.7L319.5 279.9L320.0 279.2L320.5 278.8L321.0 280.4L321.5 279.6L322.0 280.8L322.5 280.7L323.0 279.2L323.5 279.9L324.0 280.8L324.5 280.4L325.0 280.1L325.5 280.6L326.0 279.8L326.5 280.6L327.0 281.7L327.5 280.5L328.0 279.4L328.5 279.6L329.0 279.3L329.5 281.9L330.0 281.6L330.5 279.8L331.0 279.6L331.5 282.5L332.0 280.2L332.5 280.5L333.0 279.8L333.5 281.8L334.0 281.6L334.5 280.6L335.0 280.7L335.5 281.3L336.0 279.8L336.5 281.5L337.0 280.5L337.5 280.9L338.0 281.9L338.5 280.1L339.0 282.7L339.5 282.8L340.0 281.5L340.5 280.8L341.0 281.0L341.5 282.9L342.0 281.5L342.5 280.9L343.0 282.6L343.5 282.2L344.0 280.1L344.5 279.8L345.0 281.1L345.5 281.2L346.0 280.5L346.5 279.6L347.0 281.5L347.5 281.3L348.0 280.4L348.5 278.9L349.0 278.7L349.5 281.0L350.0 279.0L350.5 278.5L351.0 279.9L351.5 278.4L352.0 278.5L352.5 277.1L353.0 277.4L353.5 275.7L354.0 277.7L354.5 276.0L355.0 275.4L355.5 275.9L356.0 274.3L356.5 274.8L357.0 273.2L357.5 273.6L358.0 274.7L358.5 273.9L359.0 273.2L359.5 272.1L360.0 273.0L360.5 271.7L361.0 272.5L361.5 273.4L362.0 272.9L362.5 272.7L363.0 272.1L363.5 273.3L364.0 270.8L364.5 271.3L365.0 270.3L365.5 270.9L366.0 269.7L366.5 271.4L367.0 269.7L367.5 271.4L368.0 269.9L368.5 270.5L369.0 270.8L369.5 268.6L370.0 269.3L370.5 269.5L371.0 271.0L371.5 269.5L372.0 270.3L372.5 267.7L373.0 269.0L373.5 270.0L374.0 268.0L374.5 269.5L375.0 269.6L375.5 268.1L376.0 268.3L376.5 267.0L377.0 269.1L377.5 268.0L378.0 267.9L378.5 268.6L379.0 267.4L379.5 266.8L380.0 266.7L380.5 266.9L381.0 267.1L381.5 266.4L382.0 267.4L382.5 265.4L383.0 267.6L383.5 266.9L384.0 265.7L384.5 267.0L385.0 265.8L385.5 264.9L386.0 265.2L386.5 264.5L387.0 264.7L387.5 264.3L388.0 265.3L388.5 266.2L389.0 265.9L389.5 265.7L390.0 265.6L390.5 265.2L391.0 265.0L391.5 265.1L392.0 267.0L392.5 265.0L393.0 266.2L393.5 267.0L394.0 265.6L394.5 268.0L395.0 265.6L395.5 267.3L396.0 266.3L396.5 266.6L397.0 267.2L397.5 267.5L398.0 266.8L398.5 266.6L399.0 269.0L399.5 267.3L400.0 268.2L400.5 270.0L401.0 269.5L401.5 270.5L402.0 271.1L402.5 268.6L403.0 270.3L403.5 269.5L404.0 270.0L404.5 269.4L405.0 270.0L405.5 271.9L406.0 270.8L406.5 271.8L407.0 270.5L407.5 272.5L408.0 271.5L408.5 271.9L409.0 271.0L409.5 271.7L410.0 271.8L410.5 270.9L411.0 272.8L411.5 271.9L412.0 271.5L412.5 272.6L413.0 270.6L413.5 272.3L414.0 270.3L414.5 271.2L415.0 270.7L415.5 272.0L416.0 269.7L416.5 269.4L417.0 270.4L417.5 268.9L418.0 270.5L418.5 268.8L419.0 270.1L419.5 267.6L420.0 267.7L420.5 267.8L421.0 267.4L421.5 268.9L422.0 268.5L422.5 268.8L423.0 265.6L423.5 266.3L424.0 266.3L424.5 266.0L425.0 266.7L425.5 264.7L426.0 264.4L426.5 266.6L427.0 265.1L427.5 265.9L428.0 264.4L428.5 264.2L429.0 263.2L429.5 264.7L430.0 263.4L430.5 263.0L431.0 263.3L431.5 262.8L432.0 262.0L432.5 261.0L433.0 261.5L433.5 262.6L434.0 261.5L434.5 261.7L435.0 260.6L435.5 260.5L436.0 260.6L436.5 260.8L437.0 260.4L437.5 260.5L438.0 260.1L438.5 260.6L439.0 260.3L439.5 260.3L440.0 259.7L440.5 259.8L441.0 260.1L441.5 260.5L442.0 260.4L442.5 259.9L443.0 259.8L443.5 260.5L444.0 259.3L444.5 260.5L445.0 260.0L445.5 259.4L446.0 259.1L446.5 258.9L447.0 258.9L447.5 260.0L448.0 259.5L448.5 258.3L449.0 257.4L449.5 259.1L450.0 258.2L450.5 257.8L451.0 257.5L451.5 257.1L452.0 256.5L452.5 256.2L453.0 257.4L453.5 256.8L454.0 256.6L454.5 255.6L455.0 255.9L455.5 256.3L456.0 256.6L456.5 255.4L457.0 255.5L457.5 256.0L458.0 256.8L458.5 255.6L459.0 257.0L459.5 256.4L460.0 258.3L460.5 259.0L461.0 257.3L461.5 259.0L462.0 260.3L462.5 260.4L463.0 259.1L463.5 260.8L464.0 260.9L464.5 261.1L465.0 261.5L465.5 261.6L466.0 261.5L466.5 263.6L467.0 263.5L467.5 263.1L468.0 264.6L468.5 263.5L469.0 264.4L469.5 263.7L470.0 263.8L470.5 265.5L471.0 265.9L471.5 266.4L472.0 265.2L472.5 267.0L473.0 266.7L473.5 265.6L474.0 266.9L474.5 267.3L475.0 266.7L475.5 268.1L476.0 267.7L476.5 268.8L477.0 268.2L477.5 268.6L478.0 269.7L478.5 267.9L479.0 269.4L479.5 269.0L480.0 269.1L480.5 269.8L481.0 270.4L481.5 269.6L482.0 269.5L482.5 269.6L483.0 270.8L483.5 269.6L484.0 270.6L484.5 270.1L485.0 270.6L485.5 270.0L486.0 271.7L486.5 271.4L487.0 272.3L487.5 271.0L488.0 271.2L488.5 271.0L489.0 271.1L489.5 271.4L490.0 272.6L490.5 271.0L491.0 272.8L491.5 272.7L492.0 273.4L492.5 272.3L493.0 272.5L493.5 273.0L494.0 273.0L494.5 273.4L495.0 273.8L495.5 272.6L496.0 273.3L496.5 273.8L497.0 273.1L497.5 273.5L498.0 274.2L498.5 272.4L499.0 272.4L499.5 272.7L500.0 273.5L500.5 271.6L501.0 272.6L501.5 271.9L502.0 272.7L502.5 273.0L503.0 272.0L503.5 272.2L504.0 270.7L504.5 272.5L505.0 272.4L505.5 271.1L506.0 271.4L506.5 271.8L507.0 270.0L507.5 270.2L508.0 270.6L508.5 270.3L509.0 271.3L509.5 271.2L510.0 271.2L510.5 269.7L511.0 269.6L511.5 270.8L512.0 268.8L512.5 269.9L513.0 270.0L513.5 269.0L514.0 268.8L514.5 267.6L515.0 267.6L515.5 267.1L516.0 267.5L516.5 266.7L517.0 266.4L517.5 265.9L518.0 267.0L518.5 264.6L519.0 265.3L519.5 263.9L520.0 264.4L520.5 264.9L521.0 263.1L521.5 263.6L522.0 263.5L522.5 262.8L523.0 262.5L523.0 271.7L522.5 272.2L522.0 272.0L521.5 272.5L521.0 271.0L520.5 271.8L520.0 271.9L519.5 274.1L519.0 273.8L518.5 273.3L518.0 273.7L517.5 273.7L517.0 273.6L516.5 276.0L516.0 275.6L515.5 276.6L515.0 276.4L514.5 275.9L514.0 275.9L513.5 276.9L513.0 277.0L512.5 277.9L512.0 278.9L511.5 278.9L511.0 278.8L510.5 277.9L510.0 279.4L509.5 279.0L509.0 277.5L508.5 277.8L508.0 279.4L507.5 278.8L507.0 279.5L506.5 279.9L506.0 280.3L505.5 280.5L505.0 278.6L504.5 279.8L504.0 280.9L503.5 280.5L503.0 279.6L502.5 281.2L502.0 280.5L501.5 281.4L501.0 280.8L500.5 281.4L500.0 280.5L499.5 280.7L499.0 282.1L498.5 281.7L498.0 281.2L497.5 281.1L497.0 282.5L496.5 280.6L496.0 281.2L495.5 281.9L495.0 281.8L494.5 280.6L494.0 281.5L493.5 280.4L493.0 280.1L492.5 280.4L492.0 281.3L491.5 279.3L491.0 280.4L490.5 280.2L490.0 279.8L489.5 280.5L489.0 280.8L488.5 278.6L488.0 279.0L487.5 279.0L487.0 280.3L486.5 279.6L486.0 278.3L485.5 279.1L485.0 279.9L484.5 278.3L484.0 278.3L483.5 278.4L483.0 277.2L482.5 278.3L482.0 277.8L481.5 277.8L481.0 277.6L480.5 277.8L480.0 278.3L479.5 277.7L479.0 276.4L478.5 276.7L478.0 276.0L477.5 276.6L477.0 275.4L476.5 277.1L476.0 275.6L475.5 275.9L475.0 274.5L474.5 274.9L474.0 274.7L473.5 274.3L473.0 274.4L472.5 273.4L472.0 273.3L471.5 273.9L471.0 272.1L470.5 273.9L470.0 273.4L469.5 272.4L469.0 273.0L468.5 272.7L468.0 270.5L467.5 272.3L467.0 271.6L466.5 271.1L466.0 270.8L465.5 270.8L465.0 270.2L464.5 268.4L464.0 268.6L463.5 267.9L463.0 267.1L462.5 266.5L462.0 266.1L461.5 266.4L461.0 267.5L460.5 265.3L460.0 265.2L459.5 265.2L459.0 265.0L458.5 265.5L458.0 264.1L457.5 262.9L457.0 264.1L456.5 263.5L456.0 264.3L455.5 263.1L455.0 265.1L454.5 265.4L454.0 265.0L453.5 263.9L453.0 265.9L452.5 264.5L452.0 266.0L451.5 265.8L451.0 265.6L450.5 265.8L450.0 264.9L449.5 266.0L449.0 267.6L448.5 265.7L448.0 266.7L447.5 266.2L447.0 266.0L446.5 266.3L446.0 267.1L445.5 268.4L445.0 268.5L444.5 267.4L444.0 267.5L443.5 268.7L443.0 267.9L442.5 268.4L442.0 268.0L441.5 268.7L441.0 267.9L440.5 268.8L440.0 268.6L439.5 270.9L439.0 269.4L438.5 271.8L438.0 269.8L437.5 270.2L437.0 270.7L436.5 270.4L436.0 270.3L435.5 271.7L435.0 272.7L434.5 271.8L434.0 271.0L433.5 272.4L433.0 271.5L432.5 271.4L432.0 273.6L431.5 274.7L431.0 273.0L430.5 274.1L430.0 272.5L429.5 273.4L429.0 274.7L428.5 276.3L428.0 274.8L427.5 274.6L427.0 274.3L426.5 276.0L426.0 276.0L425.5 275.4L425.0 276.4L424.5 277.3L424.0 276.7L423.5 276.2L423.0 276.4L422.5 277.4L422.0 278.0L421.5 279.2L421.0 278.1L420.5 280.0L420.0 278.4L419.5 280.9L419.0 279.4L418.5 280.7L418.0 281.2L417.5 280.9L417.0 281.5L416.5 281.9L416.0 281.4L415.5 281.0L415.0 280.8L414.5 282.2L414.0 281.1L413.5 280.4L413.0 283.0L412.5 281.4L412.0 281.4L411.5 283.1L411.0 283.5L410.5 281.9L410.0 281.3L409.5 282.0L409.0 282.8L408.5 282.4L408.0 282.2L407.5 281.4L407.0 282.9L406.5 283.3L406.0 282.7L405.5 282.4L405.0 281.7L404.5 281.9L404.0 281.2L403.5 279.4L403.0 280.8L402.5 281.2L402.0 279.7L401.5 279.0L401.0 278.3L400.5 278.3L400.0 280.5L399.5 279.3L399.0 277.4L398.5 277.8L398.0 279.6L397.5 277.9L397.0 279.5L396.5 277.1L396.0 277.1L395.5 278.6L395.0 277.3L394.5 277.9L394.0 277.3L393.5 277.4L393.0 277.8L392.5 276.3L392.0 276.1L391.5 275.1L391.0 274.9L390.5 274.9L390.0 276.2L389.5 276.6L389.0 276.1L388.5 276.8L388.0 275.0L387.5 276.5L387.0 276.3L386.5 274.9L386.0 276.1L385.5 275.2L385.0 276.5L384.5 277.5L384.0 275.3L383.5 277.4L383.0 277.5L382.5 277.2L382.0 278.3L381.5 278.0L381.0 276.8L380.5 278.3L380.0 278.6L379.5 278.5L379.0 277.2L378.5 278.5L378.0 279.0L377.5 278.4L377.0 277.5L376.5 279.6L376.0 278.0L375.5 278.1L375.0 278.0L374.5 277.8L374.0 278.0L373.5 279.7L373.0 280.2L372.5 279.1L372.0 279.3L371.5 279.1L371.0 280.5L370.5 281.5L370.0 279.3L369.5 280.8L369.0 281.8L368.5 280.9L368.0 281.7L367.5 280.3L367.0 280.5L366.5 281.3L366.0 280.4L365.5 281.4L365.0 282.0L364.5 280.5L364.0 282.4L363.5 282.5L363.0 283.6L362.5 281.1L362.0 281.6L361.5 282.0L361.0 283.8L360.5 282.8L360.0 283.8L359.5 284.3L359.0 283.4L358.5 284.1L358.0 283.2L357.5 283.9L357.0 284.5L356.5 284.1L356.0 285.1L355.5 284.5L355.0 284.9L354.5 288.1L354.0 285.8L353.5 288.6L353.0 289.4L352.5 287.3L352.0 289.5L351.5 289.2L351.0 290.1L350.5 288.5L350.0 290.1L349.5 290.4L349.0 291.2L348.5 290.1L348.0 290.7L347.5 290.4L347.0 290.6L346.5 291.4L346.0 290.1L345.5 290.6L345.0 291.8L344.5 291.8L344.0 292.7L343.5 291.9L343.0 292.4L342.5 290.7L342.0 291.0L341.5 292.4L341.0 290.6L340.5 291.7L340.0 291.2L339.5 291.2L339.0 290.8L338.5 293.1L338.0 291.4L337.5 291.3L337.0 291.9L336.5 291.6L336.0 290.9L335.5 290.5L335.0 291.0L334.5 291.5L334.0 291.3L333.5 291.4L333.0 290.9L332.5 291.3L332.0 291.6L331.5 290.8L331.0 290.6L330.5 291.3L330.0 290.1L329.5 290.4L329.0 292.1L328.5 290.6L328.0 290.2L327.5 290.3L327.0 292.7L326.5 292.1L326.0 291.6L325.5 292.6L325.0 291.4L324.5 290.8L324.0 289.8L323.5 289.9L323.0 291.3L322.5 289.3L322.0 290.3L321.5 290.4L321.0 289.3L320.5 291.2L320.0 289.6L319.5 289.7L319.0 290.6L318.5 290.7L318.0 288.5L317.5 288.6L317.0 289.2L316.5 290.1L316.0 288.3L315.5 290.3L315.0 289.1L314.5 288.0L314.0 288.8L313.5 288.7L313.0 287.5L312.5 289.2L312.0 288.7L311.5 288.5L311.0 287.6L310.5 287.5L310.0 289.8L309.5 287.5L309.0 288.2L308.5 288.5L308.0 289.4L307.5 288.5L307.0 290.5L306.5 290.1L306.0 290.7L305.5 289.7L305.0 288.4L304.5 290.3L304.0 291.1L303.5 288.8L303.0 291.4L302.5 289.2L302.0 289.3L301.5 290.7L301.0 290.0L300.5 291.1L300.0 289.6L299.5 289.0L299.0 289.1L298.5 290.3L298.0 289.1L297.5 289.5L297.0 292.2L296.5 292.1L296.0 291.4L295.5 291.6L295.0 291.3L294.5 291.2L294.0 290.4L293.5 290.2L293.0 289.8L292.5 291.0L292.0 291.7L291.5 291.7L291.0 290.0L290.5 290.4L290.0 291.6L289.5 292.1L289.0 292.7L288.5 290.6L288.0 292.5L287.5 293.0L287.0 292.2L286.5 292.6L286.0 290.7L285.5 291.8L285.0 291.4L284.5 291.3L284.0 291.6L283.5 293.9L283.0 293.7L282.5 294.9L282.0 293.0L281.5 294.3L281.0 295.1L280.5 293.4L280.0 295.0L279.5 294.9L279.0 296.3L278.5 295.9L278.0 296.2L277.5 296.2L277.0 295.2L276.5 295.5L276.0 295.4L275.5 295.9L275.0 296.2L274.5 296.6L274.0 298.2L273.5 296.7L273.0 296.4L272.5 298.2L272.0 297.3L271.5 297.4L271.0 297.5L270.5 298.0L270.0 297.1L269.5 297.7L269.0 297.6L268.5 298.4L268.0 300.9L267.5 299.3L267.0 301.0L266.5 301.2L266.0 299.3L265.5 300.4L265.0 299.2L264.5 299.0L264.0 301.1L263.5 299.8L263.0 302.0L262.5 300.9L262.0 302.1L261.5 299.9L261.0 300.2L260.5 301.2L260.0 300.9L259.5 302.7L259.0 302.4L258.5 302.1L258.0 302.8L257.5 302.3L257.0 304.0L256.5 301.4L256.0 302.8L255.5 304.5L255.0 301.8L254.5 304.9L254.0 303.1L253.5 302.7L253.0 304.9L252.5 304.2L252.0 303.9L251.5 304.6L251.0 304.9L250.5 303.3L250.0 304.1L249.5 302.3L249.0 303.0L248.5 303.5L248.0 302.8L247.5 303.5L247.0 303.3L246.5 304.9L246.0 305.4L245.5 304.9L245.0 304.9L244.5 306.0L244.0 306.7L243.5 306.4L243.0 305.6L242.5 305.8L242.0 305.7L241.5 305.3L241.0 305.3L240.5 306.5L240.0 306.4L239.5 306.2L239.0 306.8L238.5 306.7L238.0 306.7L237.5 306.1L237.0 305.7L236.5 306.5L236.0 305.4L235.5 306.3L235.0 306.8L234.5 306.2L234.0 305.6L233.5 306.5L233.0 305.5L232.5 305.8L232.0 305.7L231.5 305.8L231.0 305.3L230.5 305.6L230.0 306.0L229.5 306.2L229.0 305.6L228.5 306.5L228.0 305.8L227.5 305.5L227.0 305.3L226.5 305.1L226.0 305.0L225.5 306.1L225.0 305.8L224.5 305.8L224.0 305.4L223.5 305.1L223.0 305.2L222.5 305.4L222.0 304.9L221.5 305.7L221.0 305.6L220.5 304.3L220.0 304.2L219.5 304.6L219.0 305.1L218.5 304.7L218.0 305.5L217.5 304.9L217.0 305.0L216.5 305.2L216.0 304.8L215.5 304.3L215.0 304.7L214.5 304.8L214.0 305.0L213.5 305.7L213.0 305.3L212.5 306.0L212.0 304.6L211.5 305.8L211.0 306.1L210.5 306.2L210.0 305.0L209.5 305.0L209.0 305.4L208.5 305.1L208.0 305.8L207.5 306.1L207.0 305.7L206.5 306.5L206.0 305.5L205.5 306.1L205.0 305.5L204.5 306.5L204.0 306.3L203.5 307.1L203.0 306.2L202.5 306.5L202.0 307.4L201.5 306.5L201.0 307.7L200.5 306.9L200.0 307.2L199.5 307.6L199.0 307.9L198.5 308.2L198.0 308.1L197.5 307.9L197.0 307.5L196.5 308.5L196.0 307.4L195.5 308.7L195.0 308.9L194.5 307.8L194.0 307.9L193.5 307.8L193.0 307.8L192.5 307.9L192.0 308.9L191.5 309.8L191.0 309.8L190.5 308.6L190.0 309.9L189.5 309.9L189.0 309.6L188.5 309.5L188.0 309.2L187.5 309.9L187.0 310.3L186.5 309.8L186.0 309.9L185.5 310.8L185.0 311.0L184.5 311.0L184.0 311.0L183.5 310.6L183.0 311.0L182.5 311.3L182.0 311.9L181.5 311.1L181.0 312.0L180.5 311.5L180.0 312.1L179.5 312.8L179.0 313.2L178.5 312.6L178.0 312.3L177.5 312.7L177.0 312.4L176.5 313.7L176.0 312.8L175.5 313.6L175.0 313.6L174.5 313.6L174.0 313.8L173.5 314.8L173.0 315.0L172.5 314.9L172.0 315.0L171.5 315.2L171.0 315.4L170.5 314.5L170.0 315.5L169.5 315.8L169.0 315.5L168.5 315.3L168.0 317.0L167.5 317.0L167.0 316.8L166.5 318.0L166.0 317.9L165.5 317.9L165.0 318.5L164.5 318.5L164.0 318.9L163.5 319.3L163.0 319.8L162.5 318.7L162.0 319.7L161.5 320.0L161.0 319.4L160.5 320.3L160.0 320.1L159.5 321.0L159.0 321.0L158.5 321.2L158.0 320.9L157.5 320.8L157.0 320.6L156.5 320.5L156.0 320.1L155.5 321.1L155.0 320.7L154.5 321.4L154.0 320.1L153.5 321.0L153.0 320.5L152.5 320.6L152.0 320.7L151.5 320.0L151.0 321.3L150.5 320.6L150.0 320.8L149.5 320.3L149.0 321.0L148.5 320.9L148.0 319.7L147.5 320.3L147.0 320.6L146.5 320.0L146.0 320.9L145.5 319.7L145.0 320.1L144.5 321.5L144.0 321.0L143.5 319.8L143.0 320.1L142.5 321.6L142.0 321.6L141.5 320.2L141.0 321.0L140.5 321.6L140.0 321.5L139.5 320.3L139.0 320.5L138.5 320.2L138.0 320.6L137.5 321.2L137.0 320.9L136.5 321.8L136.0 321.5L135.5 321.7L135.0 321.3L134.5 321.9L134.0 320.9L133.5 320.9L133.0 321.7L132.5 321.8L132.0 321.9L131.5 321.4L131.0 322.0L130.5 321.1L130.0 322.5L129.5 322.3L129.0 322.5L128.5 321.5L128.0 321.3L127.5 321.3L127.0 321.1L126.5 322.6L126.0 321.5L125.5 321.3L125.0 322.9L124.5 321.8L124.0 323.0L123.5 321.6L123.0 321.8L122.5 322.3L122.0 322.2L121.5 322.0L121.0 322.8L120.5 322.6L120.0 321.2L119.5 322.7L119.0 322.0L118.5 322.3L118.0 321.4L117.5 321.9L117.0 321.1L116.5 321.7L116.0 321.9L115.5 322.5L115.0 321.5L114.5 321.6L114.0 321.7L113.5 321.2L113.0 321.6L112.5 321.7L112.0 322.9L111.5 322.5L111.0 322.8L110.5 321.9L110.0 323.1L109.5 323.3L109.0 322.1L108.5 323.1L108.0 323.4L107.5 322.8L107.0 322.9L106.5 322.9L106.0 323.1L105.5 324.5L105.0 324.9L104.5 324.1L104.0 324.4L103.5 324.5L103.0 324.1L102.5 324.1L102.0 324.4L101.5 324.8L101.0 325.2L100.5 325.0L100.0 325.3L99.5 324.4L99.0 325.6L98.5 325.9L98.0 326.3L97.5 325.2L97.0 326.1L96.5 325.0L96.0 326.2L95.5 326.9L95.0 326.4L94.5 326.5L94.0 327.1L93.5 326.2L93.0 326.8L92.5 326.6L92.0 326.3L91.5 326.3L91.0 326.3L90.5 327.3L90.0 326.3L89.5 327.6L89.0 327.3L88.5 327.0L88.0 327.1L87.5 326.8L87.0 327.2L86.5 327.4L86.0 327.6L85.5 327.6L85.0 328.3L84.5 327.9L84.0 327.4L83.5 328.1L83.0 328.2L82.5 327.8L82.0 329.1L81.5 329.3L81.0 329.1L80.5 328.3L80.0 327.9L79.5 329.6L79.0 329.3L78.5 329.6L78.0 329.6L77.5 329.2L77.0 329.4L76.5 329.3L76.0 329.6L75.5 329.3L75.0 330.5L74.5 329.3L74.0 330.4Z" fill="#203864"/>
<path d="M74.0 322.3L74.5 321.6L75.0 321.6L75.5 320.7L76.0 321.1L76.5 321.1L77.0 320.4L77.5 320.8L78.0 322.8L78.5 321.9L79.0 321.1L79.5 320.9L80.0 322.6L80.5 320.8L81.0 321.4L81.5 320.1L82.0 321.6L82.5 321.5L83.0 321.7L83.5 321.7L84.0 321.5L84.5 321.4L85.0 320.4L85.5 319.2L86.0 320.7L86.5 321.2L87.0 319.4L87.5 319.4L88.0 318.8L88.5 320.3L89.0 320.2L89.5 319.9L90.0 318.4L90.5 318.2L91.0 319.5L91.5 318.2L92.0 320.6L92.5 321.6L93.0 320.8L93.5 320.5L94.0 320.0L94.5 320.4L95.0 320.2L95.5 321.1L96.0 319.9L96.5 320.7L97.0 319.9L97.5 320.0L98.0 320.2L98.5 320.4L99.0 320.0L99.5 319.5L100.0 319.8L100.5 319.5L101.0 320.0L101.5 319.9L102.0 319.7L102.5 320.1L103.0 319.2L103.5 318.9L104.0 319.3L104.5 319.4L105.0 318.7L105.5 318.2L106.0 318.5L106.5 318.3L107.0 318.1L107.5 318.5L108.0 317.1L108.5 317.5L109.0 317.7L109.5 317.9L110.0 317.6L110.5 317.3L111.0 317.6L111.5 316.4L112.0 316.7L112.5 315.8L113.0 316.4L113.5 316.1L114.0 315.4L114.5 315.4L115.0 315.7L115.5 315.8L116.0 315.6L116.5 315.4L117.0 316.1L117.5 315.2L118.0 315.8L118.5 316.2L119.0 314.9L119.5 314.8L120.0 315.6L120.5 315.9L121.0 315.5L121.5 315.6L122.0 315.9L122.5 315.9L123.0 314.7L123.5 315.4L124.0 315.6L124.5 314.5L125.0 315.2L125.5 314.7L126.0 315.4L126.5 315.0L127.0 315.4L127.5 314.9L128.0 315.3L128.5 314.0L129.0 315.1L129.5 314.4L130.0 313.9L130.5 314.4L131.0 315.0L131.5 314.3L132.0 315.0L132.5 314.3L133.0 314.1L133.5 314.7L134.0 313.6L134.5 313.4L135.0 314.5L135.5 313.3L136.0 313.5L136.5 313.3L137.0 314.5L137.5 313.4L138.0 313.3L138.5 314.2L139.0 314.5L139.5 314.3L140.0 313.9L140.5 313.8L141.0 313.8L141.5 313.9L142.0 313.7L142.5 313.4L143.0 313.6L143.5 313.3L144.0 313.4L144.5 314.4L145.0 314.7L145.5 313.9L146.0 314.5L146.5 314.0L147.0 313.7L147.5 314.1L148.0 313.7L148.5 314.6L149.0 314.5L149.5 314.4L150.0 314.3L150.5 314.1L151.0 313.7L151.5 314.0L152.0 313.6L152.5 314.5L153.0 314.2L153.5 313.7L154.0 314.6L154.5 314.3L155.0 314.7L155.5 314.0L156.0 313.8L156.5 313.5L157.0 313.9L157.5 314.6L158.0 313.4L158.5 313.6L159.0 314.4L159.5 313.9L160.0 314.4L160.5 313.1L161.0 313.3L161.5 313.2L162.0 313.2L162.5 313.9L163.0 312.8L163.5 313.1L164.0 313.7L164.5 313.6L165.0 313.2L165.5 312.7L166.0 312.1L166.5 312.0L167.0 312.5L167.5 312.1L168.0 311.7L168.5 311.0L169.0 310.6L169.5 311.4L170.0 310.8L170.5 310.6L171.0 309.8L171.5 309.1L172.0 309.7L172.5 308.7L173.0 308.8L173.5 309.2L174.0 308.5L174.5 307.5L175.0 307.8L175.5 307.5L176.0 307.1L176.5 306.9L177.0 306.8L177.5 306.8L178.0 305.8L178.5 306.1L179.0 304.9L179.5 305.5L180.0 304.8L180.5 305.2L181.0 304.3L181.5 304.6L182.0 305.0L182.5 304.7L183.0 303.5L183.5 303.4L184.0 303.9L184.5 304.2L185.0 303.8L185.5 303.5L186.0 303.7L186.5 303.6L187.0 303.2L187.5 303.3L188.0 302.7L188.5 302.1L189.0 303.2L189.5 301.9L190.0 302.0L190.5 302.1L191.0 301.6L191.5 302.1L192.0 301.1L192.5 301.0L193.0 301.5L193.5 300.9L194.0 301.5L194.5 301.4L195.0 300.2L195.5 300.6L196.0 300.0L196.5 300.3L197.0 299.6L197.5 299.5L198.0 299.8L198.5 298.8L199.0 298.8L199.5 297.9L200.0 298.8L200.5 297.6L201.0 297.2L201.5 298.1L202.0 296.7L202.5 296.7L203.0 297.5L203.5 296.1L204.0 296.4L204.5 297.0L205.0 295.7L205.5 295.3L206.0 295.6L206.5 295.9L207.0 296.2L207.5 295.5L208.0 295.7L208.5 295.6L209.0 295.2L209.5 296.0L210.0 295.5L210.5 295.4L211.0 296.1L211.5 295.2L212.0 294.8L212.5 294.7L213.0 295.0L213.5 295.2L214.0 295.9L214.5 295.3L215.0 295.3L215.5 295.4L216.0 295.4L216.5 295.0L217.0 294.4L217.5 294.2L218.0 294.3L218.5 294.6L219.0 295.1L219.5 294.3L220.0 294.5L220.5 294.8L221.0 295.4L221.5 294.5L222.0 294.4L222.5 293.9L223.0 294.0L223.5 294.3L224.0 294.1L224.5 294.4L225.0 293.7L225.5 294.5L226.0 294.8L226.5 294.7L227.0 293.7L227.5 294.5L228.0 294.1L228.5 293.9L229.0 294.0L229.5 293.4L230.0 294.3L230.5 294.4L231.0 294.0L231.5 293.8L232.0 293.9L232.5 294.8L233.0 294.0L233.5 294.8L234.0 293.5L234.5 293.9L235.0 293.7L235.5 294.8L236.0 294.3L236.5 295.1L237.0 294.5L237.5 293.9L238.0 294.3L238.5 294.2L239.0 293.9L239.5 294.1L240.0 295.2L240.5 295.2L241.0 294.8L241.5 294.1L242.0 294.8L242.5 295.1L243.0 294.7L243.5 295.1L244.0 295.4L244.5 295.0L245.0 294.1L245.5 294.1L246.0 294.7L246.5 295.0L247.0 294.7L247.5 294.0L248.0 293.7L248.5 294.5L249.0 294.4L249.5 294.7L250.0 293.8L250.5 293.1L251.0 292.7L251.5 292.8L252.0 293.0L252.5 292.1L253.0 292.5L253.5 292.1L254.0 291.2L254.5 292.2L255.0 291.4L255.5 291.3L256.0 291.7L256.5 290.4L257.0 291.0L257.5 290.4L258.0 289.9L258.5 290.0L259.0 289.8L259.5 288.6L260.0 288.5L260.5 288.8L261.0 288.0L261.5 287.9L262.0 287.4L262.5 288.4L263.0 288.2L263.5 288.1L264.0 287.5L264.5 286.2L265.0 286.6L265.5 286.1L266.0 286.3L266.5 285.6L267.0 285.3L267.5 285.5L268.0 285.6L268.5 284.3L269.0 284.6L269.5 284.7L270.0 284.8L270.5 284.3L271.0 283.3L271.5 282.5L272.0 283.5L272.5 282.5L273.0 282.2L273.5 281.4L274.0 282.1L274.5 280.9L275.0 281.3L275.5 280.8L276.0 280.5L276.5 279.8L277.0 280.8L277.5 279.0L278.0 280.1L278.5 279.6L279.0 278.0L279.5 278.5L280.0 277.4L280.5 277.6L281.0 276.8L281.5 276.6L282.0 277.1L282.5 276.4L283.0 275.5L283.5 275.2L284.0 275.0L284.5 274.8L285.0 275.3L285.5 274.3L286.0 273.6L286.5 273.4L287.0 273.4L287.5 273.1L288.0 272.9L288.5 273.9L289.0 273.0L289.5 273.4L290.0 273.0L290.5 273.5L291.0 273.0L291.5 271.9L292.0 271.9L292.5 271.6L293.0 271.4L293.5 272.1L294.0 272.3L294.5 271.1L295.0 271.2L295.5 270.7L296.0 271.1L296.5 270.7L297.0 271.3L297.5 270.5L298.0 270.5L298.5 270.7L299.0 270.8L299.5 272.2L300.0 272.3L300.5 271.5L301.0 271.1L301.5 271.4L302.0 272.6L302.5 272.3L303.0 272.4L303.5 273.2L304.0 272.0L304.5 272.1L305.0 273.2L305.5 273.2L306.0 274.3L306.5 273.2L307.0 274.2L307.5 273.9L308.0 275.6L308.5 274.8L309.0 275.1L309.5 275.9L310.0 276.1L310.5 276.2L311.0 276.4L311.5 277.6L312.0 278.1L312.5 277.1L313.0 278.5L313.5 278.8L314.0 277.9L314.5 278.7L315.0 279.0L315.5 279.3L316.0 278.9L316.5 279.7L317.0 279.4L317.5 280.5L318.0 280.3L318.5 279.9L319.0 280.3L319.5 279.9L320.0 281.3L320.5 281.0L321.0 280.8L321.5 281.0L322.0 282.1L322.5 280.9L323.0 282.5L323.5 282.1L324.0 282.7L324.5 281.8L325.0 282.9L325.5 282.8L326.0 282.7L326.5 283.2L327.0 283.3L327.5 283.8L328.0 284.3L328.5 284.2L329.0 284.0L329.5 283.9L330.0 284.1L330.5 284.7L331.0 285.0L331.5 285.1L332.0 284.8L332.5 285.0L333.0 285.1L333.5 286.4L334.0 286.6L334.5 285.8L335.0 285.6L335.5 287.3L336.0 287.3L336.5 286.9L337.0 287.6L337.5 286.9L338.0 287.9L338.5 287.0L339.0 287.4L339.5 288.8L340.0 287.5L340.5 288.4L341.0 288.6L341.5 288.8L342.0 288.0L342.5 288.2L343.0 288.3L343.5 287.9L344.0 288.8L344.5 289.5L345.0 288.0L345.5 288.4L346.0 288.8L346.5 287.0L347.0 286.0L347.5 285.1L348.0 282.9L348.5 281.4L349.0 279.9L349.5 280.1L350.0 279.5L350.5 278.9L351.0 279.1L351.5 279.2L352.0 278.7L352.5 278.4L353.0 277.9L353.5 277.1L354.0 277.1L354.5 275.5L355.0 275.2L355.5 276.0L356.0 274.8L356.5 275.1L357.0 273.7L357.5 274.5L358.0 274.1L358.5 273.1L359.0 272.9L359.5 273.3L360.0 272.5L360.5 272.1L361.0 270.9L361.5 270.7L362.0 271.2L362.5 270.3L363.0 271.5L363.5 271.0L364.0 270.8L364.5 269.8L365.0 270.2L365.5 270.5L366.0 268.9L366.5 268.8L367.0 268.6L367.5 269.3L368.0 269.6L368.5 267.7L369.0 267.8L369.5 268.0L370.0 268.9L370.5 267.2L371.0 267.1L371.5 267.7L372.0 266.9L372.5 266.2L373.0 266.1L373.5 267.4L374.0 267.2L374.5 265.5L375.0 266.8L375.5 266.3L376.0 265.6L376.5 264.4L377.0 265.0L377.5 264.2L378.0 265.2L378.5 265.7L379.0 265.3L379.5 265.4L380.0 265.1L380.5 264.8L381.0 265.0L381.5 264.8L382.0 264.2L382.5 262.7L383.0 263.4L383.5 262.5L384.0 263.6L384.5 262.7L385.0 262.8L385.5 262.3L386.0 262.2L386.5 263.0L387.0 263.5L387.5 263.2L388.0 263.5L388.5 263.8L389.0 264.1L389.5 264.9L390.0 263.7L390.5 264.9L391.0 264.3L391.5 265.0L392.0 264.4L392.5 265.0L393.0 266.5L393.5 267.4L394.0 266.9L394.5 268.6L395.0 270.4L395.5 270.8L396.0 270.3L396.5 272.6L397.0 272.1L397.5 273.3L398.0 274.7L398.5 274.3L399.0 275.1L399.5 275.7L400.0 278.1L400.5 278.8L401.0 279.0L401.5 279.9L402.0 280.5L402.5 280.0L403.0 281.7L403.5 282.8L404.0 282.2L404.5 282.1L405.0 283.8L405.5 282.8L406.0 283.5L406.5 283.9L407.0 283.4L407.5 285.1L408.0 283.7L408.5 284.7L409.0 285.5L409.5 286.3L410.0 286.2L410.5 287.2L411.0 287.1L411.5 287.1L412.0 287.1L412.5 287.2L413.0 286.5L413.5 287.8L414.0 287.9L414.5 288.8L415.0 287.0L415.5 286.8L416.0 284.4L416.5 285.4L417.0 284.1L417.5 283.6L418.0 282.3L418.5 281.2L419.0 280.9L419.5 280.2L420.0 277.5L420.5 277.2L421.0 277.8L421.5 276.3L422.0 277.0L422.5 276.5L423.0 275.4L423.5 275.0L424.0 275.0L424.5 275.8L425.0 274.1L425.5 274.2L426.0 274.2L426.5 273.8L427.0 272.4L427.5 272.0L428.0 271.7L428.5 270.2L429.0 268.1L429.5 267.9L430.0 266.8L430.5 266.7L431.0 266.1L431.5 265.3L432.0 266.6L432.5 266.2L433.0 265.4L433.5 265.7L434.0 264.6L434.5 264.1L435.0 264.1L435.5 264.5L436.0 263.6L436.5 263.8L437.0 262.1L437.5 262.1L438.0 261.6L438.5 261.8L439.0 262.1L439.5 260.7L440.0 261.7L440.5 261.2L441.0 261.0L441.5 260.7L442.0 260.2L442.5 261.6L443.0 260.9L443.5 261.5L444.0 259.8L444.5 260.4L445.0 260.0L445.5 260.4L446.0 259.7L446.5 259.5L447.0 260.0L447.5 260.2L448.0 259.3L448.5 259.4L449.0 259.0L449.5 259.6L450.0 260.0L450.5 259.9L451.0 258.9L451.5 259.0L452.0 258.9L452.5 259.1L453.0 258.8L453.5 258.0L454.0 258.3L454.5 257.9L455.0 259.1L455.5 257.7L456.0 257.6L456.5 257.7L457.0 258.0L457.5 258.2L458.0 259.0L458.5 258.1L459.0 258.8L459.5 259.5L460.0 259.8L460.5 260.9L461.0 259.8L461.5 261.3L462.0 260.4L462.5 260.5L463.0 262.3L463.5 261.7L464.0 261.6L464.5 263.1L465.0 262.5L465.5 262.7L466.0 263.0L466.5 262.8L467.0 263.6L467.5 263.7L468.0 265.0L468.5 265.2L469.0 265.4L469.5 265.7L470.0 265.4L470.5 266.0L471.0 265.9L471.5 266.7L472.0 266.5L472.5 267.1L473.0 267.0L473.5 267.4L474.0 267.8L474.5 268.8L475.0 268.8L475.5 268.0L476.0 269.4L476.5 269.3L477.0 270.1L477.5 269.7L478.0 270.2L478.5 269.4L479.0 270.3L479.5 269.7L480.0 271.0L480.5 270.7L481.0 270.9L481.5 270.3L482.0 271.6L482.5 271.7L483.0 270.4L483.5 270.8L484.0 272.0L484.5 270.8L485.0 272.0L485.5 272.1L486.0 271.3L486.5 271.3L487.0 272.0L487.5 271.4L488.0 272.2L488.5 272.2L489.0 273.3L489.5 272.0L490.0 273.3L490.5 272.0L491.0 272.5L491.5 273.1L492.0 273.5L492.5 273.0L493.0 273.4L493.5 272.9L494.0 274.0L494.5 273.4L495.0 273.0L495.5 273.4L496.0 272.8L496.5 273.7L497.0 272.8L497.5 272.3L498.0 273.6L498.5 273.7L499.0 273.5L499.5 272.7L500.0 272.1L500.5 272.6L501.0 273.3L501.5 272.9L502.0 272.7L502.5 272.4L503.0 273.3L503.5 271.5L504.0 272.0L504.5 271.4L505.0 270.9L505.5 271.7L506.0 271.7L506.5 271.2L507.0 271.6L507.5 270.2L508.0 270.8L508.5 269.9L509.0 269.7L509.5 270.4L510.0 269.6L510.5 269.1L511.0 269.3L511.5 269.6L512.0 269.4L512.5 268.2L513.0 268.2L513.5 268.3L514.0 267.2L514.5 268.0L515.0 266.7L515.5 267.0L516.0 267.6L516.5 267.2L517.0 266.9L517.5 265.4L518.0 265.4L518.5 266.5L519.0 265.4L519.5 266.0L520.0 264.2L520.5 265.2L521.0 264.8L521.5 263.8L522.0 263.3L522.5 264.2L523.0 262.9L523.0 270.0L522.5 270.0L522.0 269.1L521.5 269.3L521.0 271.0L520.5 270.9L520.0 271.5L519.5 270.5L519.0 271.0L518.5 270.7L518.0 272.3L517.5 271.3L517.0 273.0L516.5 272.5L516.0 272.7L515.5 273.7L515.0 273.5L514.5 272.7L514.0 273.2L513.5 274.3L513.0 275.0L512.5 274.6L512.0 275.3L511.5 275.2L511.0 275.6L510.5 274.9L510.0 275.1L509.5 276.3L509.0 275.6L508.5 276.5L508.0 275.8L507.5 277.0L507.0 276.4L506.5 276.8L506.0 276.6L505.5 276.7L505.0 278.2L504.5 277.7L504.0 278.5L503.5 278.8L503.0 278.0L502.5 278.2L502.0 277.7L501.5 278.9L501.0 279.3L500.5 278.3L500.0 279.1L499.5 279.2L499.0 279.5L498.5 278.8L498.0 278.3L497.5 278.4L497.0 279.2L496.5 278.5L496.0 278.4L495.5 278.7L495.0 279.8L494.5 278.8L494.0 279.3L493.5 279.9L493.0 279.3L492.5 279.5L492.0 278.5L491.5 278.9L491.0 278.6L490.5 278.0L490.0 278.9L489.5 278.3L489.0 279.2L488.5 277.5L488.0 277.9L487.5 278.6L487.0 277.7L486.5 278.3L486.0 277.8L485.5 277.2L485.0 276.8L484.5 277.4L484.0 276.9L483.5 277.3L483.0 277.6L482.5 276.4L482.0 277.4L481.5 276.2L481.0 276.4L480.5 276.5L480.0 275.9L479.5 276.4L479.0 275.7L478.5 276.4L478.0 275.6L477.5 275.8L477.0 276.0L476.5 275.1L476.0 274.8L475.5 274.0L475.0 273.7L474.5 273.6L474.0 274.5L473.5 273.1L473.0 274.0L472.5 272.8L472.0 273.2L471.5 271.8L471.0 272.8L470.5 272.6L470.0 271.0L469.5 270.9L469.0 271.0L468.5 270.8L468.0 269.9L467.5 269.5L467.0 270.4L466.5 268.8L466.0 269.8L465.5 268.3L465.0 268.1L464.5 268.6L464.0 267.5L463.5 267.8L463.0 267.4L462.5 267.8L462.0 266.0L461.5 265.8L461.0 266.1L460.5 266.7L460.0 265.2L459.5 264.9L459.0 264.7L458.5 265.5L458.0 264.2L457.5 265.1L457.0 264.3L456.5 263.8L456.0 263.6L455.5 264.5L455.0 263.6L454.5 264.6L454.0 264.7L453.5 265.0L453.0 265.4L452.5 264.3L452.0 264.3L451.5 264.5L451.0 264.3L450.5 264.9L450.0 265.1L449.5 264.5L449.0 265.2L448.5 266.1L448.0 264.9L447.5 265.4L447.0 265.5L446.5 266.7L446.0 266.5L445.5 266.2L445.0 265.7L444.5 265.9L444.0 267.2L443.5 266.6L443.0 267.2L442.5 267.0L442.0 267.3L441.5 267.6L441.0 267.5L440.5 267.1L440.0 268.1L439.5 266.5L439.0 267.0L438.5 268.1L438.0 268.0L437.5 267.6L437.0 269.5L436.5 269.2L436.0 269.3L435.5 269.5L435.0 270.3L434.5 269.3L434.0 270.4L433.5 270.7L433.0 271.2L432.5 270.9L432.0 271.0L431.5 271.8L431.0 272.0L430.5 272.0L430.0 272.2L429.5 273.6L429.0 275.5L428.5 277.5L428.0 278.1L427.5 279.1L427.0 279.4L426.5 281.1L426.0 281.6L425.5 281.9L425.0 281.6L424.5 282.6L424.0 281.8L423.5 282.7L423.0 282.3L422.5 284.2L422.0 284.4L421.5 283.9L421.0 283.6L420.5 284.2L420.0 284.5L419.5 285.9L419.0 286.5L418.5 288.0L418.0 288.0L417.5 288.9L417.0 290.9L416.5 291.2L416.0 292.7L415.5 294.0L415.0 295.0L414.5 295.6L414.0 294.0L413.5 294.7L413.0 294.3L412.5 295.1L412.0 294.1L411.5 293.8L411.0 292.6L410.5 293.1L410.0 293.0L409.5 292.3L409.0 291.6L408.5 291.9L408.0 292.1L407.5 291.4L407.0 291.0L406.5 291.6L406.0 291.1L405.5 289.9L405.0 288.9L404.5 288.6L404.0 289.0L403.5 289.2L403.0 287.5L402.5 288.2L402.0 286.7L401.5 285.5L401.0 286.3L400.5 284.5L400.0 285.0L399.5 282.7L399.0 282.0L398.5 282.0L398.0 280.6L397.5 281.4L397.0 280.8L396.5 278.0L396.0 277.7L395.5 277.9L395.0 277.0L394.5 275.7L394.0 275.3L393.5 273.2L393.0 272.1L392.5 272.8L392.0 271.4L391.5 272.7L391.0 272.9L390.5 272.7L390.0 272.3L389.5 271.1L389.0 271.1L388.5 270.5L388.0 270.1L387.5 271.0L387.0 270.9L386.5 269.9L386.0 271.0L385.5 270.7L385.0 270.5L384.5 271.1L384.0 269.7L383.5 270.6L383.0 269.9L382.5 271.0L382.0 270.6L381.5 271.2L381.0 270.7L380.5 271.0L380.0 272.1L379.5 271.0L379.0 271.6L378.5 272.4L378.0 271.2L377.5 272.3L377.0 271.7L376.5 272.9L376.0 271.7L375.5 273.7L375.0 273.4L374.5 272.4L374.0 273.8L373.5 274.1L373.0 273.3L372.5 273.5L372.0 274.8L371.5 274.8L371.0 275.2L370.5 274.4L370.0 275.9L369.5 274.9L369.0 274.4L368.5 276.4L368.0 275.7L367.5 276.6L367.0 275.5L366.5 276.5L366.0 277.1L365.5 277.6L365.0 277.9L364.5 277.9L364.0 278.4L363.5 277.7L363.0 278.3L362.5 278.9L362.0 279.0L361.5 277.9L361.0 278.7L360.5 278.5L360.0 278.8L359.5 278.1L359.0 279.0L358.5 279.0L358.0 279.5L357.5 279.3L357.0 279.2L356.5 280.0L356.0 280.6L355.5 281.2L355.0 281.2L354.5 281.3L354.0 281.7L353.5 282.8L353.0 283.4L352.5 282.7L352.0 283.8L351.5 283.5L351.0 283.7L350.5 285.2L350.0 284.4L349.5 285.7L349.0 285.0L348.5 287.4L348.0 288.5L347.5 290.5L347.0 291.4L346.5 293.3L346.0 293.9L345.5 294.6L345.0 294.1L344.5 293.5L344.0 294.8L343.5 293.5L343.0 294.9L342.5 293.6L342.0 294.2L341.5 294.3L341.0 294.2L340.5 293.8L340.0 293.3L339.5 293.9L339.0 293.7L338.5 292.4L338.0 293.0L337.5 292.4L337.0 292.5L336.5 292.1L336.0 292.3L335.5 292.0L335.0 292.0L334.5 292.2L334.0 291.5L333.5 291.7L333.0 291.3L332.5 291.2L332.0 290.6L331.5 290.1L331.0 291.0L330.5 290.7L330.0 289.6L329.5 290.5L329.0 290.1L328.5 289.8L328.0 288.9L327.5 289.1L327.0 288.9L326.5 289.0L326.0 289.2L325.5 288.9L325.0 288.3L324.5 287.5L324.0 288.1L323.5 287.8L323.0 288.0L322.5 287.9L322.0 286.5L321.5 287.0L321.0 285.8L320.5 285.8L320.0 286.1L319.5 285.3L319.0 285.6L318.5 285.8L318.0 285.1L317.5 285.3L317.0 285.6L316.5 285.6L316.0 285.0L315.5 285.1L315.0 284.2L314.5 283.6L314.0 283.9L313.5 284.4L313.0 283.2L312.5 283.8L312.0 282.3L311.5 283.1L311.0 282.1L310.5 281.6L310.0 280.8L309.5 282.0L309.0 280.3L308.5 279.8L308.0 281.1L307.5 279.3L307.0 279.4L306.5 278.7L306.0 279.7L305.5 278.5L305.0 278.2L304.5 277.9L304.0 278.4L303.5 277.4L303.0 277.7L302.5 277.9L302.0 278.0L301.5 277.4L301.0 277.6L300.5 277.4L300.0 277.0L299.5 276.7L299.0 276.1L298.5 275.9L298.0 276.0L297.5 276.8L297.0 276.9L296.5 275.9L296.0 276.1L295.5 277.1L295.0 276.8L294.5 277.4L294.0 277.5L293.5 277.7L293.0 278.0L292.5 277.1L292.0 277.2L291.5 278.7L291.0 278.7L290.5 277.7L290.0 278.6L289.5 278.2L289.0 279.4L288.5 278.3L288.0 278.5L287.5 279.1L287.0 278.9L286.5 278.9L286.0 279.1L285.5 280.4L285.0 280.8L284.5 279.9L284.0 280.7L283.5 280.7L283.0 281.4L282.5 281.6L282.0 282.7L281.5 282.6L281.0 282.5L280.5 283.3L280.0 283.0L279.5 284.1L279.0 283.5L278.5 284.2L278.0 285.1L277.5 285.1L277.0 285.2L276.5 286.1L276.0 285.4L275.5 286.4L275.0 286.3L274.5 287.0L274.0 286.4L273.5 287.9L273.0 288.1L272.5 288.0L272.0 287.8L271.5 289.2L271.0 288.7L270.5 289.7L270.0 289.7L269.5 289.5L269.0 290.2L268.5 290.0L268.0 290.1L267.5 290.2L267.0 290.7L266.5 292.1L266.0 291.4L265.5 291.6L265.0 292.1L264.5 292.2L264.0 292.2L263.5 293.0L263.0 292.4L262.5 292.9L262.0 293.4L261.5 293.6L261.0 294.5L260.5 294.4L260.0 295.1L259.5 295.1L259.0 295.7L258.5 294.6L258.0 295.3L257.5 296.3L257.0 295.6L256.5 296.9L256.0 296.9L255.5 295.9L255.0 297.1L254.5 297.2L254.0 297.5L253.5 297.3L253.0 297.2L252.5 298.6L252.0 297.8L251.5 298.0L251.0 298.3L250.5 298.5L250.0 298.8L249.5 299.8L249.0 299.0L248.5 298.6L248.0 299.8L247.5 299.4L247.0 300.2L246.5 299.3L246.0 299.0L245.5 300.3L245.0 300.4L244.5 300.2L244.0 300.2L243.5 299.9L243.0 300.2L242.5 300.4L242.0 299.5L241.5 300.2L241.0 299.4L240.5 300.2L240.0 300.0L239.5 299.2L239.0 299.0L238.5 299.7L238.0 299.1L237.5 299.3L237.0 300.1L236.5 300.0L236.0 299.0L235.5 299.8L235.0 298.9L234.5 299.9L234.0 299.6L233.5 299.6L233.0 299.2L232.5 299.9L232.0 299.0L231.5 298.8L231.0 298.6L230.5 298.9L230.0 299.3L229.5 299.7L229.0 299.6L228.5 299.3L228.0 298.9L227.5 298.6L227.0 298.8L226.5 299.7L226.0 298.9L225.5 299.8L225.0 299.2L224.5 299.1L224.0 300.1L223.5 299.5L223.0 298.9L222.5 299.5L222.0 300.2L221.5 299.1L221.0 299.7L220.5 299.1L220.0 299.2L219.5 299.8L219.0 299.7L218.5 299.3L218.0 300.0L217.5 300.3L217.0 299.8L216.5 300.5L216.0 299.7L215.5 300.2L215.0 300.7L214.5 299.9L214.0 300.6L213.5 299.9L213.0 300.7L212.5 300.9L212.0 300.8L211.5 300.9L211.0 299.8L210.5 300.8L210.0 300.5L209.5 301.0L209.0 301.0L208.5 301.3L208.0 300.4L207.5 300.3L207.0 300.3L206.5 300.9L206.0 301.2L205.5 300.9L205.0 301.1L204.5 300.8L204.0 301.6L203.5 302.5L203.0 301.9L202.5 302.7L202.0 303.1L201.5 302.2L201.0 303.3L200.5 302.8L200.0 303.3L199.5 304.2L199.0 304.4L198.5 303.7L198.0 304.3L197.5 304.1L197.0 304.5L196.5 304.5L196.0 304.5L195.5 305.6L195.0 305.4L194.5 306.0L194.0 305.3L193.5 305.8L193.0 306.3L192.5 306.9L192.0 306.4L191.5 307.2L191.0 307.5L190.5 306.9L190.0 307.9L189.5 307.4L189.0 306.9L188.5 308.3L188.0 307.3L187.5 308.2L187.0 307.8L186.5 308.9L186.0 308.8L185.5 308.3L185.0 308.8L184.5 308.5L184.0 308.5L183.5 309.0L183.0 308.8L182.5 309.1L182.0 310.2L181.5 309.4L181.0 309.7L180.5 309.7L180.0 309.5L179.5 310.6L179.0 310.3L178.5 310.6L178.0 311.0L177.5 311.7L177.0 311.4L176.5 311.8L176.0 312.8L175.5 312.2L175.0 313.0L174.5 313.2L174.0 313.6L173.5 313.1L173.0 313.9L172.5 314.3L172.0 315.3L171.5 315.6L171.0 314.5L170.5 315.9L170.0 316.2L169.5 315.8L169.0 316.7L168.5 316.5L168.0 316.4L167.5 317.0L167.0 317.3L166.5 317.3L166.0 316.9L165.5 317.8L165.0 317.5L164.5 318.4L164.0 317.9L163.5 318.7L163.0 318.1L162.5 318.9L162.0 319.0L161.5 318.6L161.0 319.4L160.5 318.6L160.0 318.7L159.5 319.1L159.0 318.6L158.5 319.3L158.0 319.2L157.5 319.4L157.0 319.5L156.5 318.9L156.0 319.0L155.5 319.6L155.0 319.7L154.5 318.4L154.0 318.7L153.5 319.3L153.0 319.6L152.5 318.7L152.0 318.6L151.5 318.9L151.0 319.7L150.5 319.1L150.0 318.5L149.5 319.3L149.0 319.5L148.5 318.7L148.0 318.6L147.5 318.4L147.0 318.6L146.5 319.7L146.0 318.4L145.5 319.3L145.0 318.4L144.5 319.3L144.0 319.8L143.5 318.4L143.0 319.0L142.5 318.8L142.0 318.5L141.5 319.1L141.0 319.2L140.5 318.5L140.0 319.7L139.5 318.6L139.0 319.0L138.5 319.2L138.0 319.3L137.5 319.7L137.0 319.2L136.5 319.4L136.0 318.7L135.5 318.8L135.0 319.6L134.5 319.4L134.0 319.8L133.5 319.8L133.0 319.5L132.5 319.0L132.0 319.0L131.5 319.1L131.0 319.8L130.5 319.0L130.0 320.1L129.5 320.2L129.0 320.4L128.5 320.3L128.0 319.4L127.5 320.6L127.0 319.7L126.5 320.2L126.0 320.6L125.5 320.7L125.0 320.2L124.5 320.4L124.0 320.7L123.5 320.3L123.0 320.7L122.5 319.6L122.0 320.3L121.5 320.1L121.0 320.7L120.5 319.9L120.0 319.9L119.5 320.3L119.0 320.3L118.5 320.6L118.0 320.5L117.5 320.5L117.0 320.7L116.5 321.1L116.0 321.0L115.5 321.2L115.0 321.3L114.5 321.4L114.0 320.5L113.5 321.8L113.0 321.2L112.5 322.1L112.0 321.5L111.5 321.3L111.0 321.5L110.5 321.6L110.0 323.0L109.5 322.6L109.0 322.9L108.5 322.1L108.0 323.5L107.5 322.5L107.0 322.9L106.5 322.7L106.0 323.5L105.5 323.6L105.0 324.5L104.5 323.5L104.0 324.1L103.5 325.0L103.0 324.4L102.5 324.3L102.0 324.4L101.5 324.6L101.0 324.7L100.5 325.0L100.0 325.3L99.5 325.5L99.0 324.6L98.5 325.3L98.0 325.1L97.5 325.2L97.0 325.1L96.5 324.8L96.0 325.4L95.5 326.2L95.0 325.1L94.5 326.0L94.0 326.4L93.5 326.2L93.0 325.5L92.5 325.6L92.0 326.1L91.5 325.8L91.0 326.1L90.5 326.8L90.0 326.8L89.5 327.3L89.0 327.4L88.5 327.3L88.0 326.7L87.5 326.8L87.0 327.9L86.5 326.8L86.0 327.3L85.5 328.2L85.0 327.3L84.5 328.4L84.0 327.7L83.5 328.6L83.0 327.8L82.5 328.7L82.0 329.1L81.5 328.8L81.0 328.6L80.5 328.1L80.0 329.1L79.5 328.6L79.0 328.8L78.5 328.4L78.0 328.7L77.5 329.1L77.0 328.3L76.5 328.9L76.0 329.6L75.5 328.5L75.0 329.3L74.5 329.2L74.0 329.1Z" fill="#843c0c"/>
<path d="M74.0 327.0V289.1M75.0 326.8V288.2M75.5 326.7V282.0M76.5 326.5V290.5M77.0 326.4V307.2M77.5 326.2V296.5M78.0 326.1V280.9M79.0 325.9V289.6M79.5 325.8V294.0M80.0 325.7V274.5M80.5 325.6V274.6M81.0 325.5V300.6M81.5 325.4V299.1M83.5 325.0V297.0M88.0 324.2V271.6M90.5 323.8V303.6M91.0 323.7V301.5M92.5 323.4V287.0M93.0 323.3V269.0M99.5 322.1V283.7M100.0 322.0V278.8M100.5 322.0V272.7M101.0 321.9V302.6M101.5 321.8V284.7M104.0 321.2V285.9M107.5 320.3V276.2M109.0 319.9V255.6M110.5 319.5V302.9M112.0 319.0V295.3M113.0 318.8V273.7M116.0 318.6V253.3M117.0 318.6V277.5M121.0 318.8V302.8M125.5 319.0V273.6M128.5 318.7V269.2M130.5 318.5V280.1M132.0 318.4V301.9M135.0 318.1V292.6M136.0 318.0V270.2M143.0 317.6V254.7M144.5 317.5V251.1M145.5 317.5V281.3M148.5 317.4V260.1M150.0 317.4V286.0M151.0 317.4V287.2M152.0 317.4V257.4M155.5 317.4V298.7M156.5 317.4V272.2M157.0 317.4V261.8M160.0 317.0V263.6M162.5 316.4V291.1M166.5 314.2V278.1M168.0 313.4V281.0M168.5 313.1V281.2M169.5 312.7V246.6M170.0 312.5V296.4M172.0 311.9V292.1M173.0 311.5V292.9M175.0 310.9V285.1M179.0 309.5V292.9M179.5 309.4V295.0M185.5 307.7V275.1M189.5 306.6V284.6M196.5 304.9V289.0M199.5 304.3V276.6M201.0 304.0V282.8M204.0 303.4V273.8M211.0 302.5V272.3M215.0 302.1V290.8M217.5 301.9V278.9M221.0 302.1V282.2M222.5 302.2V276.4M223.5 302.3V276.9M226.0 302.6V270.4M228.0 302.8V268.7M233.5 303.1V269.6M234.0 303.1V282.3M234.5 303.1V272.1M238.5 303.1V278.1M242.0 303.1V287.2M249.5 299.7V279.6M252.0 298.8V284.5M254.5 298.1V277.3M255.5 297.8V277.5M257.0 297.4V284.2M257.5 297.2V267.7M259.0 296.8V278.6M259.5 296.7V261.9M260.5 296.4V268.0M262.0 295.9V271.0M264.0 295.4V262.3M265.5 294.9V272.0M274.0 291.7V268.2M276.0 290.9V274.1M285.0 287.2V261.3M294.5 285.8V254.4M298.5 285.3V267.6M301.0 285.0V250.0M301.5 284.9V267.5M307.0 284.1V246.7M321.5 284.9V257.0M324.0 285.5V266.2M326.5 285.9V252.3M327.5 286.0V268.7M336.5 286.5V268.1M341.0 286.8V252.8M341.5 286.7V274.1M349.0 285.2V253.8M350.0 285.0V262.4M351.5 283.8V257.1M357.0 279.5V264.2M361.5 277.6V258.7M362.0 277.5V256.2M363.0 277.2V263.6M364.5 276.7V259.7M365.5 276.4V264.5M371.5 274.6V251.7M372.0 274.4V245.1M372.5 274.3V263.5M375.5 273.4V239.6M378.0 272.7V248.0M378.5 272.6V258.2M379.0 272.5V258.7M381.0 272.0V240.3M385.0 271.1V251.8M386.5 270.8V241.8M391.0 270.9V245.3M397.0 272.9V246.6M399.5 273.8V245.2M401.0 274.4V253.1M402.0 274.8V243.4M402.5 275.0V262.7M403.5 275.4V248.9M406.5 276.7V251.8M411.5 277.1V258.8M412.5 276.8V260.5M414.0 276.4V257.0M415.0 276.2V259.2M416.0 275.9V261.4M417.5 275.2V263.3M418.0 274.9V262.5M420.0 273.9V255.5M420.5 273.7V244.8M421.5 273.2V253.9M424.0 271.9V259.1M426.0 270.9V234.5M430.5 268.5V247.4M431.0 268.3V249.6M434.5 266.9V231.4M436.0 266.2V226.8M438.0 265.4V229.5M439.0 265.0V233.4M440.0 264.8V226.7M442.0 264.3V242.1M443.5 263.9V245.1M444.0 263.8V233.3M444.5 263.7V232.6M447.0 263.0V242.1M449.0 262.4V229.7M452.0 261.2V238.0M457.5 259.7V228.5M458.0 260.1V238.8M459.0 260.9V238.0M459.5 261.2V226.1M461.5 262.8V247.1M463.0 264.0V246.4M464.5 265.1V241.4M466.0 266.3V227.9M466.5 266.7V243.3M467.0 266.9V246.8M467.5 267.2V244.5M470.0 268.7V233.9M472.0 269.8V239.4M474.0 270.9V240.1M474.5 271.2V253.2M476.0 272.0V261.5M479.0 273.0V247.3M480.0 273.3V241.9M480.5 273.5V241.3M482.5 274.1V254.6M484.5 274.8V245.7M485.0 274.9V240.7M487.0 275.3V258.7M488.5 275.7V253.2M489.0 275.8V263.8M490.0 276.0V246.8M490.5 276.1V242.6M495.0 277.1V240.3M495.5 277.2V255.4M496.0 277.3V238.8M498.0 277.3V244.2M498.5 277.1V258.0M499.0 277.0V262.1M505.0 275.5V253.6M506.5 275.2V246.3M511.0 274.0V240.6M513.5 272.8V240.7M514.0 272.5V235.2M515.5 271.6V245.8M516.5 270.9V237.4M518.5 269.7V239.6M519.5 269.0V230.9" stroke="#203864" fill="none"/>
<path d="M74.0 326.5V301.4M82.0 325.8V309.9M83.0 325.5V311.2M85.5 325.0V300.2M86.5 324.8V303.8M91.5 323.6V303.7M94.5 323.2V301.0M101.0 322.3V302.7M103.0 322.0V310.9M119.0 318.0V309.2M126.5 317.4V303.8M128.0 317.2V301.3M128.5 317.2V293.1M129.0 317.1V295.7M134.5 316.6V298.5M135.0 316.6V309.8M143.5 316.5V305.0M151.0 316.5V292.7M154.5 316.5V292.0M155.5 316.5V304.3M161.5 316.1V296.6M163.5 315.8V292.5M164.0 315.6V296.7M168.0 314.2V302.6M169.0 313.8V299.0M173.0 311.6V304.5M179.5 307.8V283.0M182.5 306.8V295.7M183.5 306.5V293.6M193.5 303.7V284.3M195.5 302.8V285.4M196.0 302.6V293.1M199.0 301.3V287.2M203.5 299.4V289.2M204.5 298.9V286.0M211.0 298.0V283.1M214.0 297.8V283.9M226.0 296.9V277.0M228.0 296.8V289.1M247.0 297.0V281.0M249.5 296.6V274.7M251.5 295.8V270.9M254.5 294.4V286.6M255.5 293.9V269.3M261.5 291.1V271.5M263.5 290.1V279.8M269.0 287.4V262.0M269.5 287.1V270.1M279.0 281.4V273.0M282.0 279.5V264.7M285.5 277.3V256.1M290.5 275.6V267.2M294.5 274.4V253.9M301.5 274.7V249.2M312.0 280.0V270.6M314.0 281.2V267.1M325.0 285.4V269.5M335.5 289.3V281.5M337.0 289.8V276.8M343.5 291.4V283.7M356.5 277.5V261.3M365.5 273.3V264.5M372.5 270.4V243.4M379.5 268.0V250.9M380.5 267.8V244.9M391.5 268.6V249.8M392.5 268.9V259.7M393.5 270.4V256.3M394.5 272.1V246.4M403.0 284.7V262.6M405.0 286.4V271.1M409.0 288.8V266.2M414.0 291.3V267.4M423.0 279.5V266.2M425.0 277.9V267.6M427.0 276.4V254.6M428.5 273.2V248.4M429.5 271.1V246.2M432.5 268.5V247.4M442.0 263.9V247.5M442.5 263.8V239.7M443.5 263.6V239.3M445.0 263.3V239.9M446.0 263.1V248.2M446.5 263.0V245.0M453.0 261.8V237.0M456.0 261.2V242.0M459.0 262.1V243.6M472.0 269.7V251.8M473.5 270.6V257.4M474.0 270.9V252.8M477.0 272.2V251.6M478.0 272.6V250.7M479.5 273.0V260.0M481.0 273.4V253.8M485.0 274.6V254.0M488.0 275.2V266.9M490.5 275.8V251.2M498.0 276.0V252.8M501.5 275.6V257.4M502.0 275.6V255.3M505.5 274.4V264.2M506.0 274.2V249.6M509.0 273.0V245.5M510.5 272.4V255.0M519.5 268.1V246.5M522.5 266.6V256.9" stroke="#843c0c" fill="none"/>
</g>
<rect x="74.2" y="375.6" width="449" height="9" fill="#fff" stroke="#3f3f3f" stroke-width="2"/><rect x="121.5" y="374.6" width="43.5" height="11" fill="#3f3f3f"/><rect x="211" y="374.6" width="43.0" height="11" fill="#3f3f3f"/><rect x="301" y="374.6" width="42.0" height="11" fill="#3f3f3f"/><rect x="391" y="374.6" width="43.0" height="11" fill="#3f3f3f"/><rect x="480" y="374.6" width="44.0" height="11" fill="#3f3f3f"/>
<g stroke="#bfbfbf" stroke-width="1.2">
<path d="M163.4 385.6 V389 M253.3 385.6 V389 M343.2 385.6 V389 M433.2 385.6 V389 M523.2 385.6 V389 M74.2 385.6 V389"/>
</g>
<g stroke-width="3.3" stroke-linecap="round">
<path d="M105.5 69.5 H120.8" stroke="#4472c4"/>
<path d="M105.5 95.7 H120.8" stroke="#ed7d31"/>
<path d="M105.5 121.5 H120.8" stroke="#203864"/>
<path d="M105.5 147.6 H120.8" stroke="#843c0c"/>
</g>
<g font-family='"Liberation Sans", sans-serif' font-size="19" fill="#595959" stroke="#595959" stroke-width="0.35">
<text x="125.5" y="74.3" textLength="130" lengthAdjust="spacingAndGlyphs">WT_LD-N_200</text>
<text x="125.5" y="99.8" textLength="152" lengthAdjust="spacingAndGlyphs">Δ<tspan font-style="italic">cphA</tspan>_LD-N_200</text>
<text x="125.5" y="125.9" textLength="118.5" lengthAdjust="spacingAndGlyphs">WT_LD-N_50</text>
<text x="125.5" y="151.5" textLength="144" lengthAdjust="spacingAndGlyphs">Δ<tspan font-style="italic">cphA</tspan>_LD-N_50</text>
</g>


<g font-family='"Liberation Sans", sans-serif' fill="#000">
<text x="9" y="24.4" font-size="21.5" textLength="20.5" lengthAdjust="spacingAndGlyphs">A.</text>
<text x="9.5" y="453.8" font-size="23" textLength="20.5" lengthAdjust="spacingAndGlyphs">B.</text>
<text x="9.3" y="643.6" font-size="23.5" textLength="22" lengthAdjust="spacingAndGlyphs">C.</text>
</g>

<g font-family='"Liberation Sans", sans-serif' fill="#1a1a1a" stroke="#1a1a1a" stroke-width="0.3">
<text x="91.8" y="478.9" font-size="17" text-anchor="start" fill="#1a1a1a" textLength="159.5" lengthAdjust="spacingAndGlyphs" >50 µmol photons m</text>
<text x="251" y="472.6" font-size="10.5" text-anchor="start" fill="#1a1a1a" textLength="13.5" lengthAdjust="spacingAndGlyphs" >−2</text>
<text x="266.3" y="478.9" font-size="17" text-anchor="start" fill="#1a1a1a" textLength="8" lengthAdjust="spacingAndGlyphs" >s</text>
<text x="274.7" y="472.6" font-size="10.5" text-anchor="start" fill="#1a1a1a" textLength="10.5" lengthAdjust="spacingAndGlyphs" >−1</text>
<text x="314.6" y="478.9" font-size="17" text-anchor="start" fill="#1a1a1a" textLength="169.5" lengthAdjust="spacingAndGlyphs" >200 µmol photons m</text>
<text x="483.8" y="472.6" font-size="10.5" text-anchor="start" fill="#1a1a1a" textLength="13.5" lengthAdjust="spacingAndGlyphs" >−2</text>
<text x="499.4" y="478.9" font-size="17" text-anchor="start" fill="#1a1a1a" textLength="8" lengthAdjust="spacingAndGlyphs" >s</text>
<text x="507.2" y="472.6" font-size="10.5" text-anchor="start" fill="#1a1a1a" textLength="10.5" lengthAdjust="spacingAndGlyphs" >−1</text>
<text x="136.8" y="502.6" font-size="18.5" text-anchor="start" fill="#1a1a1a" textLength="27.5" lengthAdjust="spacingAndGlyphs" >WT</text>
<text x="192" y="502.8" font-size="18.5" textLength="52.2" lengthAdjust="spacingAndGlyphs">Δ<tspan font-style="italic">cphA</tspan></text>
<text x="363.8" y="502.6" font-size="18.5" text-anchor="start" fill="#1a1a1a" textLength="26.6" lengthAdjust="spacingAndGlyphs" >WT</text>
<text x="419.3" y="502.8" font-size="18.5" textLength="52" lengthAdjust="spacingAndGlyphs">Δ<tspan font-style="italic">cphA</tspan></text>
</g>
<defs>
<linearGradient id="lg1" x1="0" x2="1" y1="0" y2="0">
<stop offset="0" stop-color="#76b960"/><stop offset="0.25" stop-color="#7bbc66"/><stop offset="0.5" stop-color="#78ba62"/><stop offset="0.8" stop-color="#76b85f"/><stop offset="0.92" stop-color="#70b25a"/><stop offset="1" stop-color="#76b75e"/>
</linearGradient>
<linearGradient id="lg2" x1="0" x2="1" y1="0" y2="0">
<stop offset="0" stop-color="#7bba5a"/><stop offset="0.5" stop-color="#7cb957"/><stop offset="0.85" stop-color="#7eb95b"/><stop offset="1" stop-color="#7ab859"/>
</linearGradient>
<linearGradient id="dg1" x1="0" x2="1" y1="0" y2="0">
<stop offset="0" stop-color="#148a3a"/><stop offset="0.5" stop-color="#158b3b"/><stop offset="1" stop-color="#13873a"/>
</linearGradient>
<linearGradient id="dg2" x1="0" x2="1" y1="0" y2="0">
<stop offset="0" stop-color="#178f3f"/><stop offset="0.5" stop-color="#18913f"/><stop offset="1" stop-color="#168e3e"/>
</linearGradient>
</defs>
<rect x="178" y="510.8" width="11.3" height="75" fill="#efefe9"/>
<path d="M120.4 510.8 H178.6 L180 585.8 H120.4 Z" fill="url(#lg1)"/>
<rect x="189.3" y="510.8" width="54.7" height="75" fill="url(#lg2)"/>
<rect x="352.5" y="509.6" width="53.2" height="76.4" fill="url(#dg1)"/>
<rect x="417.5" y="510.8" width="53.4" height="75.2" fill="url(#dg2)"/>
<g stroke-width="0.8" fill="none" opacity="0.18">
<path d="M358 512 V585 M372 512 C371 540 373 560 372 585 M394 512 C395 540 393 560 396 585" stroke="#0a6a2a"/>
<path d="M426 512 V585 M447 512 C446 540 448 560 447 585 M466 512 V585" stroke="#0a6a2a"/>
<path d="M365 512 V585 M401 540 C400 560 399 575 402 585" stroke="#3aa660"/>
<path d="M435 512 V585 M458 512 V585" stroke="#3aa660"/>
<path d="M130 512 V585 M146 512 V585 M160 512 C159 540 161 560 160 585" stroke="#a6d896"/>
<path d="M200 512 V585 M222 512 V585 M236 512 V585" stroke="#a6d896"/>
</g>


<g stroke="#d9d9d9" stroke-width="1.5" fill="none">
<path d="M169.6 643.8 V945.6 M473.4 643.8 V945.6 M169.6 945.6 H473.4"/>
<path d="M166.3 643.8 H169.6 M166.3 719.2 H169.6 M166.3 794.7 H169.6 M166.3 870.1 H169.6 M473.4 643.8 H477 M473.4 719.2 H477 M473.4 794.7 H477 M473.4 870.1 H477"/>
</g>
<rect x="207.3" y="662.7" width="35" height="282.8" fill="#4672bd"/>
<rect x="251.2" y="726.6" width="35" height="218.9" fill="#ed7d31"/>
<rect x="361.2" y="729.9" width="34.5" height="215.6" fill="#4672bd"/>
<rect x="405" y="745.4" width="34.7" height="200.1" fill="#ed7d31"/>
<g stroke="#404040" stroke-width="1.6" fill="none">
<path d="M224.8 650 V675 M222.3 650 H227.3 M222.3 675 H227.3"/>
<path d="M268.7 720 V733.4 M266.2 720 H271.2 M266.2 733.4 H271.2"/>
<path d="M378.2 716.8 V741.5 M375.7 716.8 H380.7 M375.7 741.5 H380.7"/>
<path d="M422.3 743.2 V748 M419.8 743.2 H424.8 M419.8 748 H424.8"/>
</g>
<g font-family='"Liberation Sans", sans-serif' fill="#595959" font-size="19">
<text x="166.9" y="647.8" font-size="19.3" text-anchor="end" fill="#595959" textLength="28.6" lengthAdjust="spacingAndGlyphs" >0.8</text>
<text x="166.9" y="723.2" font-size="19.3" text-anchor="end" fill="#595959" textLength="28.6" lengthAdjust="spacingAndGlyphs" >0.6</text>
<text x="166.9" y="798.7" font-size="19.3" text-anchor="end" fill="#595959" textLength="28.6" lengthAdjust="spacingAndGlyphs" >0.4</text>
<text x="166.9" y="874.1" font-size="19.3" text-anchor="end" fill="#595959" textLength="28.6" lengthAdjust="spacingAndGlyphs" >0.2</text>
<text x="166.9" y="949.6" font-size="19.3" text-anchor="end" fill="#595959" textLength="28.6" lengthAdjust="spacingAndGlyphs" >0.0</text>
<text x="476.9" y="647.8" font-size="19.3" text-anchor="start" fill="#595959" textLength="28.6" lengthAdjust="spacingAndGlyphs" >0.8</text>
<text x="476.9" y="723.2" font-size="19.3" text-anchor="start" fill="#595959" textLength="28.6" lengthAdjust="spacingAndGlyphs" >0.6</text>
<text x="476.9" y="798.7" font-size="19.3" text-anchor="start" fill="#595959" textLength="28.6" lengthAdjust="spacingAndGlyphs" >0.4</text>
<text x="476.9" y="874.1" font-size="19.3" text-anchor="start" fill="#595959" textLength="28.6" lengthAdjust="spacingAndGlyphs" >0.2</text>
<text x="476.9" y="949.6" font-size="19.3" text-anchor="start" fill="#595959" textLength="28.6" lengthAdjust="spacingAndGlyphs" >0.0</text>
<text x="247" y="965" font-size="19" text-anchor="middle" fill="#595959" textLength="23" lengthAdjust="spacingAndGlyphs" >Fv</text>
<text x="401.4" y="965" font-size="19" text-anchor="middle" fill="#595959" textLength="56" lengthAdjust="spacingAndGlyphs" >Fv/Fm</text>
<text transform="translate(132.6,783.8) rotate(-90)" text-anchor="middle" font-size="20.2" textLength="213.5" lengthAdjust="spacingAndGlyphs">Fv (Fluorescence, A.U.)</text>
<text transform="translate(511.8,790.1) rotate(90)" text-anchor="middle" font-size="20.2" textLength="249.5" lengthAdjust="spacingAndGlyphs">Fv/Fm (Fluorescence, A.U.)</text>
<text x="265.3" y="988.2" font-size="19" text-anchor="start" fill="#595959" textLength="32" lengthAdjust="spacingAndGlyphs" >WT</text>
<text x="315.5" y="988.2" textLength="58" lengthAdjust="spacingAndGlyphs">Δ<tspan font-style="italic">cphA</tspan></text>
</g>
<rect x="257.2" y="978.8" width="6" height="6" fill="#4672bd"/>
<rect x="305.2" y="978.8" width="6" height="6" fill="#ed7d31"/>
<g stroke="#111" stroke-width="1.7" stroke-linecap="round">
<path d="M265.4 701.6 H273.6 M267.5 698 L271.5 705.2 M271.5 698 L267.5 705.2"/>
<path d="M416.6 721.9 H424.8 M418.7 718.3 L422.7 725.5 M422.7 718.3 L418.7 725.5"/>
</g>

</svg>
</body></html>
